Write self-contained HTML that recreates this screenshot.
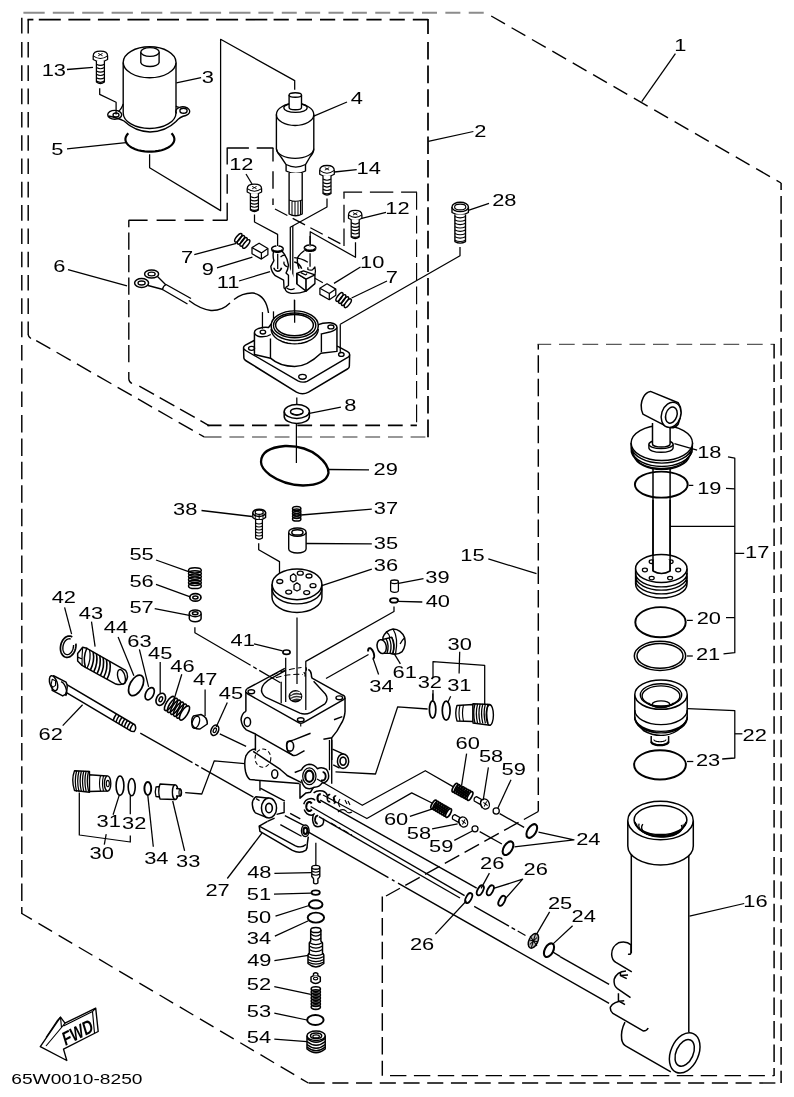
<!DOCTYPE html>
<html><head><meta charset="utf-8"><title>Parts diagram</title>
<style>html,body{margin:0;padding:0;background:#fff}svg{display:block}
text{font-family:"Liberation Sans",sans-serif;fill:#000}
svg{will-change:transform}</style></head>
<body><svg width="794" height="1097" viewBox="0 0 794 1097" stroke-linecap="butt" stroke-linejoin="round">
<rect width="794" height="1097" fill="#fff"/>
<path d="M23.4,12.7 L250.5,12.7" stroke="#8c8c8c" stroke-width="2.01" fill="none" stroke-dasharray="21.3 8.1"/>
<path d="M258.4,12.7 L484.5,12.7" stroke="#8c8c8c" stroke-width="2.01" fill="none" stroke-dasharray="15 8.37"/>
<path d="M491.2,16 L781.1,183" stroke="#000" stroke-width="1.38" fill="none" stroke-dasharray="15.9 7.62"/>
<path d="M781.1,183 L781.1,1083" stroke="#000" stroke-width="1.49" fill="none" stroke-dasharray="17.6 6.04" stroke-dashoffset="10.6"/>
<path d="M308.6,1083 L781.1,1083" stroke="#000" stroke-width="1.38" fill="none" stroke-dasharray="16.1 7.62"/>
<path d="M21.8,913.5 L308.3,1083" stroke="#000" stroke-width="1.38" fill="none" stroke-dasharray="15.8 7.65" stroke-dashoffset="4.1"/>
<path d="M21.8,17.8 L21.8,33.4" stroke="#000" stroke-width="1.44" fill="none"/>
<path d="M21.8,42 L21.8,407.2" stroke="#000" stroke-width="1.44" fill="none" stroke-dasharray="15.6 7.7"/>
<path d="M21.8,415 L21.8,914" stroke="#000" stroke-width="1.44" fill="none" stroke-dasharray="17.5 5.923"/>
<path d="M27.5,19.6 L33.4,19.6" stroke="#000" stroke-width="1.72" fill="none"/>
<path d="M38.8,19.6 L267.3,19.6" stroke="#000" stroke-width="1.72" fill="none" stroke-dasharray="22 7.55"/>
<path d="M273.6,19.6 L428.6,19.6" stroke="#000" stroke-width="1.72" fill="none" stroke-dasharray="15.2 8"/>
<path d="M428,19 L428,437.5" stroke="#000" stroke-width="1.72" fill="none" stroke-dasharray="15 8 17.6 6 17.6 6 17.6 6 17.6 6 17.6 6 17.6 6 17.6 6 17.6 6 17.6 6 17.6 6 17.6 6 17.6 6 17.6 6 17.6 6 17.6 6 17.6 6 17.6 6 17.6 6 17.6 6 17.6 6"/>
<path d="M204.1,437 L221.5,437" stroke="#333" stroke-width="1.15" fill="none"/>
<path d="M229.4,437 L428,437" stroke="#333" stroke-width="1.15" fill="none" stroke-dasharray="14.8 7.85"/>
<path d="M36.2,340.6 L204.1,436.9" stroke="#000" stroke-width="1.38" fill="none" stroke-dasharray="16.3 7.16"/>
<path d="M28.2,334 Q28.2,337 31,338.5" stroke="#000" stroke-width="1.26" fill="none"/>
<path d="M28.2,19.6 L28.2,33.4" stroke="#000" stroke-width="1.44" fill="none"/>
<path d="M28.2,42 L28.2,334.5" stroke="#000" stroke-width="1.44" fill="none" stroke-dasharray="15.6 7.7"/>
<path d="M128.8,362.3 L128.8,220.2" stroke="#000" stroke-width="1.38" fill="none" stroke-dasharray="17.2 5.3 17.2 5.3 17.2 5.3 17.2 5.3 17.2 5.3 17.2 5.3 17.2 5.3"/>
<path d="M128.6,220.2 L227.4,220.2" stroke="#000" stroke-width="1.49" fill="none" stroke-dasharray="19 9"/>
<path d="M227.2,220.2 L227.2,147.4" stroke="#000" stroke-width="1.38" fill="none" stroke-dasharray="17.5 9 19.5 9.8 17 0"/>
<path d="M227.4,148 L273.4,148" stroke="#000" stroke-width="1.49" fill="none" stroke-dasharray="21.5 7.8"/>
<path d="M273,148 L273,205" stroke="#000" stroke-width="1.38" fill="none" stroke-dasharray="13.5 9.7 17.6 9.8"/>
<path d="M275,209 L342,244.5" stroke="#000" stroke-width="1.26" fill="none" stroke-dasharray="14 6"/>
<path d="M344,246 L344,192.2" stroke="#000" stroke-width="1.26" fill="none" stroke-dasharray="17.6 6"/>
<path d="M343.4,192.2 L417,192.2" stroke="#000" stroke-width="1.26" fill="none" stroke-dasharray="18.7 7.8 23.4 7.8"/>
<path d="M416.6,192.2 L416.6,426" stroke="#000" stroke-width="1.15" fill="none" stroke-dasharray="17.6 6"/>
<path d="M207.3,425.3 L416.9,425.3" stroke="#000" stroke-width="1.72" fill="none" stroke-dasharray="14.8 7.85" stroke-dashoffset="0.6"/>
<path d="M139.3,386.1 L209.4,425.8" stroke="#000" stroke-width="1.44" fill="none" stroke-dasharray="16.9 6.5"/>
<path d="M128.8,372 L128.8,379 Q129,382 132,383.5" stroke="#000" stroke-width="1.38" fill="none"/>
<path d="M537.5,344.4 L774.6,344.4" stroke="#5a5a5a" stroke-width="1.44" fill="none" stroke-dasharray="15.7 7.8" stroke-dashoffset="2"/>
<path d="M774.1,344 L774.1,1076" stroke="#000" stroke-width="1.49" fill="none" stroke-dasharray="17.45 6" stroke-dashoffset="3"/>
<path d="M390,1075.6 L774.1,1075.6" stroke="#000" stroke-width="1.38" fill="none" stroke-dasharray="16.4 7.5"/>
<path d="M382.3,896.6 L382.3,1075.8" stroke="#000" stroke-width="1.44" fill="none" stroke-dasharray="17.5 6.3" stroke-dashoffset="2.4"/>
<path d="M538.3,811.5 L386,896" stroke="#000" stroke-width="1.38" fill="none" stroke-dasharray="16.5 6.1"/>
<path d="M538.3,344.4 L538.3,349.6" stroke="#000" stroke-width="1.44" fill="none"/>
<path d="M538.3,355.3 L538.3,811.5" stroke="#000" stroke-width="1.44" fill="none" stroke-dasharray="17.5 5.96"/>
<path d="M123.2,62.5 L123.2,113 A26.4,15.5 0 0 0 176,113 L176,62.5" stroke="#000" stroke-width="1.38" fill="#fff"/>
<ellipse cx="149.6" cy="62.3" rx="26.4" ry="15.5" stroke="#000" stroke-width="1.38" fill="#fff"/>
<path d="M140.8,52 L140.8,62.5 A9.2,4.4 0 0 0 159.1,62.5 L159.1,52" stroke="#000" stroke-width="1.38" fill="#fff"/>
<ellipse cx="150" cy="52" rx="9.2" ry="4.4" stroke="#000" stroke-width="1.38" fill="#fff"/>
<path d="M108.5,116 Q118,118 124,121 Q135,131.5 150,132 Q166,131.5 176,121.5 Q180,116.5 186,115.5" stroke="#000" stroke-width="1.38" fill="none"/>
<path d="M123.2,104 Q121,110 118.5,111.2" stroke="#000" stroke-width="1.26" fill="none"/>
<path d="M176,106 Q177.5,107.5 179,107" stroke="#000" stroke-width="1.26" fill="none"/>
<ellipse cx="114.7" cy="114.8" rx="7" ry="4.4" stroke="#000" stroke-width="1.38" fill="none"/>
<ellipse cx="116" cy="115" rx="3" ry="2" stroke="#000" stroke-width="1.26" fill="none"/>
<path d="M176.5,113.5 A7,4.6 0 1 1 186,115.5" stroke="#000" stroke-width="1.38" fill="none"/>
<ellipse cx="183.5" cy="110.8" rx="3.6" ry="2.5" stroke="#000" stroke-width="1.38" fill="none"/>
<path d="M171.53,133.33 L172.94,134.95 L173.89,136.66 L174.35,138.42 L174.32,140.19 L173.8,141.95 L172.8,143.64 L171.34,145.25 L169.44,146.74 L167.15,148.08 L164.51,149.23 L161.58,150.19 L158.42,150.92 L155.08,151.42 L151.64,151.67 L148.16,151.67 L144.72,151.42 L141.38,150.92 L138.22,150.19 L135.29,149.23 L132.65,148.08 L130.36,146.74 L128.46,145.25 L127,143.64 L126,141.95 L125.48,140.19 L125.45,138.42 L125.91,136.66 L126.86,134.95 L128.27,133.33" stroke="#000" stroke-width="2.18" fill="none"/>
<path d="M149.6,154.3 L149.6,167.8 L220.6,210.6 L220.6,39.3 L294.7,80.6 L294.7,89.7" stroke="#000" stroke-width="1.26" fill="none"/>
<path d="M93.2,55.925 Q93.2,51.2 100.4,51.2 Q107.6,51.2 107.6,55.925 L107.6,59.5 Q100.4,64.2 93.2,59.5 Z" stroke="#000" stroke-width="1.26" fill="#fff"/>
<path d="M93.2,55.925 Q100.4,61.175 107.6,55.925" stroke="#000" stroke-width="1.03" fill="none"/>
<path d="M98.2,53.4 L102.6,55.8 M102.6,53.4 L98.2,55.8" stroke="#000" stroke-width="0.92" fill="none"/>
<path d="M96.4,60.7 L96.4,82 Q100.4,85 104.4,82 L104.4,60.7" stroke="#000" stroke-width="1.26" fill="#fff"/>
<path d="M96.4,64.1917 Q100.4,66.5917 104.4,64.1917 M96.4,67.575 Q100.4,69.975 104.4,67.575 M96.4,70.9583 Q100.4,73.3583 104.4,70.9583 M96.4,74.3417 Q100.4,76.7417 104.4,74.3417 M96.4,77.725 Q100.4,80.125 104.4,77.725 M96.4,81.1083 Q100.4,83.5083 104.4,81.1083 " stroke="#000" stroke-width="1.15" fill="none"/>
<path d="M99.7,88.2 L99.7,94.4 L116.1,102.3 L116.1,114.6" stroke="#000" stroke-width="1.26" fill="none"/>
<path d="M67,69.5 L93,67.3" stroke="#000" stroke-width="1.26" fill="none"/>
<text transform="translate(41.64 75.6) scale(1.35 1)" font-size="16.2">13</text>
<path d="M176.4,82.9 L201.1,77.6" stroke="#000" stroke-width="1.26" fill="none"/>
<text transform="translate(201.67 83) scale(1.35 1)" font-size="16.2">3</text>
<path d="M67,148.8 L126,142.6" stroke="#000" stroke-width="1.26" fill="none"/>
<text transform="translate(51.13 155) scale(1.35 1)" font-size="16.2">5</text>
<path d="M276.4,114.5 L276.4,148.8 Q277,153 281,157 L286.1,164.6 L286.1,171 Q295.8,176 305.5,171 L305.5,164.6 L310,157 Q313.8,153 313.8,148.8 L313.8,114.5" stroke="#000" stroke-width="1.38" fill="#fff"/>
<ellipse cx="295.1" cy="114.5" rx="18.7" ry="11" stroke="#000" stroke-width="1.38" fill="#fff"/>
<path d="M276.4,148.8 A18.7,9.5 0 0 0 313.8,148.8" stroke="#000" stroke-width="1.26" fill="none"/>
<path d="M286.1,164.6 Q295.8,169.5 305.5,164.6" stroke="#000" stroke-width="1.15" fill="none"/>
<ellipse cx="295.5" cy="107.8" rx="11.7" ry="4.6" stroke="#000" stroke-width="1.26" fill="none"/>
<path d="M289.1,95 L289.1,107.5 A6.2,2.2 0 0 0 301.5,107.5 L301.5,95" stroke="#000" stroke-width="1.38" fill="#fff"/>
<ellipse cx="295.3" cy="95" rx="6.2" ry="2.2" stroke="#000" stroke-width="1.38" fill="#fff"/>
<path d="M289.1,173 L289.1,214 Q295.6,217.5 302.2,214 L302.2,173" stroke="#000" stroke-width="1.38" fill="#fff"/>
<path d="M289.1,199.9 Q295.6,202.5 302.2,199.9 M292,201 L292,215.5 M295,201.5 L295,216 M298,201.5 L298,216 M300.5,201 L300.5,215" stroke="#000" stroke-width="1.03" fill="none"/>
<path d="M313.8,116.1 L347,102" stroke="#000" stroke-width="1.26" fill="none"/>
<text transform="translate(350.70 103.6) scale(1.35 1)" font-size="16.2">4</text>
<path d="M319.7,170.45 Q319.7,165.5 327,165.5 Q334.3,165.5 334.3,170.45 L334.3,174.3 Q327,179 319.7,174.3 Z" stroke="#000" stroke-width="1.26" fill="#fff"/>
<path d="M319.7,170.45 Q327,175.95 334.3,170.45" stroke="#000" stroke-width="1.03" fill="none"/>
<path d="M324.8,167.7 L329.2,170.1 M329.2,167.7 L324.8,170.1" stroke="#000" stroke-width="0.92" fill="none"/>
<path d="M323,175.5 L323,193.6 Q327,196.6 331,193.6 L331,175.5" stroke="#000" stroke-width="1.26" fill="#fff"/>
<path d="M323,179.01 Q327,181.41 331,179.01 M323,182.43 Q327,184.83 331,182.43 M323,185.85 Q327,188.25 331,185.85 M323,189.27 Q327,191.67 331,189.27 M323,192.69 Q327,195.09 331,192.69 " stroke="#000" stroke-width="1.15" fill="none"/>
<path d="M327,198.5 L327,207 L290.3,227.3 L290.3,288" stroke="#000" stroke-width="1.26" fill="none"/>
<path d="M292.8,226 L292.8,288" stroke="#000" stroke-width="1.26" fill="none"/>
<path d="M334.3,172 L356.7,169.6" stroke="#000" stroke-width="1.26" fill="none"/>
<text transform="translate(356.54 173.7) scale(1.35 1)" font-size="16.2">14</text>
<path d="M247.2,188.7 Q247.2,184.2 254.4,184.2 Q261.6,184.2 261.6,188.7 L261.6,192 Q254.4,196.7 247.2,192 Z" stroke="#000" stroke-width="1.26" fill="#fff"/>
<path d="M247.2,188.7 Q254.4,193.7 261.6,188.7" stroke="#000" stroke-width="1.03" fill="none"/>
<path d="M252.2,186.4 L256.6,188.8 M256.6,186.4 L252.2,188.8" stroke="#000" stroke-width="0.92" fill="none"/>
<path d="M250.4,193.2 L250.4,210 Q254.4,213 258.4,210 L258.4,193.2" stroke="#000" stroke-width="1.26" fill="#fff"/>
<path d="M250.4,196.58 Q254.4,198.98 258.4,196.58 M250.4,199.74 Q254.4,202.14 258.4,199.74 M250.4,202.9 Q254.4,205.3 258.4,202.9 M250.4,206.06 Q254.4,208.46 258.4,206.06 M250.4,209.22 Q254.4,211.62 258.4,209.22 " stroke="#000" stroke-width="1.15" fill="none"/>
<path d="M254.5,214.4 L254.5,222 L277.6,234.4 L277.6,246" stroke="#000" stroke-width="1.26" fill="none"/>
<path d="M246,174 L252,184" stroke="#000" stroke-width="1.26" fill="none"/>
<text transform="translate(229.14 170.3) scale(1.35 1)" font-size="16.2">12</text>
<path d="M348.5,214.9 Q348.5,210.4 355.2,210.4 Q361.9,210.4 361.9,214.9 L361.9,218.2 Q355.2,222.9 348.5,218.2 Z" stroke="#000" stroke-width="1.26" fill="#fff"/>
<path d="M348.5,214.9 Q355.2,219.9 361.9,214.9" stroke="#000" stroke-width="1.03" fill="none"/>
<path d="M353,212.6 L357.4,215 M357.4,212.6 L353,215" stroke="#000" stroke-width="0.92" fill="none"/>
<path d="M351.2,219.4 L351.2,237 Q355.2,240 359.2,237 L359.2,219.4" stroke="#000" stroke-width="1.26" fill="#fff"/>
<path d="M351.2,222.86 Q355.2,225.26 359.2,222.86 M351.2,226.18 Q355.2,228.58 359.2,226.18 M351.2,229.5 Q355.2,231.9 359.2,229.5 M351.2,232.82 Q355.2,235.22 359.2,232.82 M351.2,236.14 Q355.2,238.54 359.2,236.14 " stroke="#000" stroke-width="1.15" fill="none"/>
<path d="M355.5,242.3 L355.5,257.3 L310.2,231.7 L310.2,245" stroke="#000" stroke-width="1.26" fill="none"/>
<path d="M361.7,218.4 L386,212.4" stroke="#000" stroke-width="1.26" fill="none"/>
<text transform="translate(385.24 214.2) scale(1.35 1)" font-size="16.2">12</text>
<path d="M452,206.98 L452,212.5 Q460.2,217.5 468.4,212.5 L468.4,206.98" stroke="#000" stroke-width="1.38" fill="#fff"/>
<ellipse cx="460.2" cy="206.98" rx="8.2" ry="4.68" stroke="#000" stroke-width="1.38" fill="#fff"/>
<ellipse cx="460.2" cy="206.98" rx="5.6" ry="2.88" stroke="#000" stroke-width="1.15" fill="none"/>
<path d="M454.9,214.5 L454.9,241.6 Q460.2,244.6 465.5,241.6 L465.5,214.5" stroke="#000" stroke-width="1.38" fill="#fff"/>
<path d="M454.9,216.532 Q460.2,219.132 465.5,216.532 M454.9,219.92 Q460.2,222.52 465.5,219.92 M454.9,223.308 Q460.2,225.907 465.5,223.308 M454.9,226.695 Q460.2,229.295 465.5,226.695 M454.9,230.082 Q460.2,232.682 465.5,230.082 M454.9,233.47 Q460.2,236.07 465.5,233.47 M454.9,236.857 Q460.2,239.457 465.5,236.857 M454.9,240.245 Q460.2,242.845 465.5,240.245 " stroke="#000" stroke-width="1.15" fill="none"/>
<path d="M460,247 L460,255.7 L340.3,324.2" stroke="#000" stroke-width="1.26" fill="none"/>
<path d="M468.3,210.4 L489,203.3" stroke="#000" stroke-width="1.26" fill="none"/>
<text transform="translate(492.21 206) scale(1.35 1)" font-size="16.2">28</text>
<path d="M428.3,141.4 L473.4,131.5" stroke="#000" stroke-width="1.26" fill="none"/>
<text transform="translate(474.31 136.5) scale(1.35 1)" font-size="16.2">2</text>
<path d="M675.4,53.6 L641.7,101.7" stroke="#000" stroke-width="1.26" fill="none"/>
<text transform="translate(674.34 51) scale(1.35 1)" font-size="16.2">1</text>
<ellipse cx="238.3" cy="237.8" rx="1.976" ry="5.2" stroke="#000" stroke-width="1.49" fill="none" transform="rotate(38.12518197129579 238.3 237.8)"/>
<ellipse cx="240.933" cy="239.867" rx="1.976" ry="5.2" stroke="#000" stroke-width="1.49" fill="none" transform="rotate(38.12518197129579 240.933 239.867)"/>
<ellipse cx="243.567" cy="241.933" rx="1.976" ry="5.2" stroke="#000" stroke-width="1.49" fill="none" transform="rotate(38.12518197129579 243.567 241.933)"/>
<ellipse cx="246.2" cy="244" rx="1.976" ry="5.2" stroke="#000" stroke-width="1.49" fill="#fff" transform="rotate(38.12518197129579 246.2 244)"/>
<ellipse cx="339.5" cy="297" rx="1.976" ry="5.2" stroke="#000" stroke-width="1.49" fill="none" transform="rotate(36.75928817029204 339.5 297)"/>
<ellipse cx="342.267" cy="299.067" rx="1.976" ry="5.2" stroke="#000" stroke-width="1.49" fill="none" transform="rotate(36.75928817029204 342.267 299.067)"/>
<ellipse cx="345.033" cy="301.133" rx="1.976" ry="5.2" stroke="#000" stroke-width="1.49" fill="none" transform="rotate(36.75928817029204 345.033 301.133)"/>
<ellipse cx="347.8" cy="303.2" rx="1.976" ry="5.2" stroke="#000" stroke-width="1.49" fill="#fff" transform="rotate(36.75928817029204 347.8 303.2)"/>
<path d="M 281.84,250.99 Q 287.57,257.16 288.46,265.1 Q 288.01,269.51 285.99,273.04 L 288.46,275.24 L 288.46,285.38 Q 285.81,286.71 285.1,288.91 Q 285.81,292.44 291.1,293.32 Q 299.04,293.76 306.09,291.11 L 306.09,279.21 L 296.83,273.48 L 296.83,284.06 M 285.1,288.91 L 284.05,288.03 L 283.6,280.09 L 275.23,275.68 Q 271.26,271.71 270.82,266.42 L 273.9,260.69 Q 272.58,256.28 273.46,251.87" stroke="#000" stroke-width="1.38" fill="#fff"/>
<path d="M 273.9,267.75 Q 274.35,270.83 277.7,271.27 Q 280.96,270.83 281.58,267.75" stroke="#000" stroke-width="1.49" fill="none"/>
<path d="M 286.69,288.03 Q 290.22,291.11 294.63,288.47" stroke="#000" stroke-width="1.26" fill="none"/>
<path d="M 280.52,256.99 Q 282.72,254.96 285.1,255.22 M 284.05,261.57 Q 282.99,265.1 287.57,266.86" stroke="#000" stroke-width="1.26" fill="none"/>
<path d="M 294.19,257.6 Q 301.24,258.05 307.86,262.28 M 294.19,262.01 Q 299.48,262.9 301.68,268.8 M 297.71,257.16 Q 296.57,262.46 299.04,268.8 M 304.5,250.55 Q 299.04,254.52 297.71,257.6" stroke="#000" stroke-width="1.38" fill="none"/>
<path d="M 296.83,273.48 L 303.45,270.83 L 314.91,274.8 L 314.91,283.62 L 306.09,291.11 L 306.09,279.21 L 296.83,273.48 Z" stroke="#000" stroke-width="1.38" fill="#fff"/>
<path d="M 306.09,279.21 L 314.91,274.8 M 296.83,273.48 L 296.83,284.06 L 306.09,291.11" stroke="#000" stroke-width="1.38" fill="none"/>
<path d="M 300.8,272.6 L 305.21,274.8 Q 306.53,274.8 306.97,273.48 M 307.86,267.31 L 307.86,269.51 Q 310.06,270.57 312.44,269.86 L 314.91,267.04 L 315.44,271.27 L 314.91,274.8" stroke="#000" stroke-width="1.26" fill="none"/>
<path d="M282.82,249.79 L282.48,250.17 L282.04,250.52 L281.5,250.84 L280.88,251.11 L280.19,251.34 L279.45,251.51 L278.66,251.63 L277.84,251.69 L277.02,251.69 L276.2,251.63 L275.41,251.51 L274.67,251.34 L273.98,251.11 L273.36,250.84 L272.82,250.52 L272.38,250.17 L272.04,249.79" stroke="#000" stroke-width="2.53" fill="none"/>
<path d="M272.04,249.79 L271.82,249.38 L271.71,248.96 L271.72,248.54 L271.85,248.12 L272.1,247.72 L272.47,247.33 L272.93,246.99 L273.5,246.67 L274.14,246.41 L274.86,246.19 L275.63,246.03 L276.43,245.92" stroke="#000" stroke-width="1.49" fill="none"/>
<path d="M278.43,245.92 L279.23,246.03 L280,246.19 L280.72,246.41 L281.36,246.67 L281.93,246.99 L282.39,247.33 L282.76,247.72 L283.01,248.12 L283.14,248.54 L283.15,248.96 L283.04,249.38 L282.82,249.79" stroke="#000" stroke-width="1.49" fill="none"/>
<path d="M315.45,248.9 L315.11,249.28 L314.67,249.63 L314.13,249.95 L313.51,250.22 L312.82,250.45 L312.08,250.62 L311.29,250.74 L310.47,250.8 L309.65,250.8 L308.83,250.74 L308.04,250.62 L307.3,250.45 L306.61,250.22 L305.99,249.95 L305.45,249.63 L305.01,249.28 L304.67,248.9" stroke="#000" stroke-width="2.53" fill="none"/>
<path d="M304.67,248.9 L304.45,248.49 L304.34,248.07 L304.35,247.65 L304.48,247.23 L304.73,246.83 L305.1,246.44 L305.56,246.1 L306.13,245.78 L306.77,245.52 L307.49,245.3 L308.26,245.14 L309.06,245.03" stroke="#000" stroke-width="1.49" fill="none"/>
<path d="M311.06,245.03 L311.86,245.14 L312.63,245.3 L313.35,245.52 L313.99,245.78 L314.56,246.1 L315.02,246.44 L315.39,246.83 L315.64,247.23 L315.77,247.65 L315.78,248.07 L315.67,248.49 L315.45,248.9" stroke="#000" stroke-width="1.49" fill="none"/>
<path d="M277.7,253.64 L277.7,269.07" stroke="#000" stroke-width="1.26" fill="none"/>
<path d="M310.06,253.2 L310.06,266.86" stroke="#000" stroke-width="1.26" fill="none"/>
<path d="M310.06,236 L310.06,246.58" stroke="#000" stroke-width="1.26" fill="none"/>
<path d="M314.91,278.33 L322.85,282.74" stroke="#000" stroke-width="1.15" fill="none"/>
<path d="M252,247.6 L259.1,243.2 L267.9,248.5 L267.9,254.7 L261.4,259.1 L252,253.8 Z" stroke="#000" stroke-width="1.26" fill="#fff"/>
<path d="M252,247.6 L261.4,252.9 L267.9,248.5 M261.4,252.9 L261.4,259.1" stroke="#000" stroke-width="1.26" fill="none"/>
<path d="M319.9,288.2 L327,283.8 L335.8,289.1 L335.8,295.3 L329.3,299.7 L319.9,294.4 Z" stroke="#000" stroke-width="1.26" fill="#fff"/>
<path d="M319.9,288.2 L329.3,293.5 L335.8,289.1 M329.3,293.5 L329.3,299.7" stroke="#000" stroke-width="1.26" fill="none"/>
<path d="M294.4,299.6 L294.4,323.4" stroke="#000" stroke-width="1.26" fill="none"/>
<path d="M194.3,254.7 L236.4,243.4" stroke="#000" stroke-width="1.26" fill="none"/>
<text transform="translate(180.88 262.6) scale(1.35 1)" font-size="16.2">7</text>
<path d="M217,267.8 L252.4,257.2" stroke="#000" stroke-width="1.26" fill="none"/>
<text transform="translate(201.77 274.8) scale(1.35 1)" font-size="16.2">9</text>
<path d="M239,281 L270,271.6" stroke="#000" stroke-width="1.26" fill="none"/>
<text transform="translate(216.74 288) scale(1.35 1)" font-size="16.2">11</text>
<path d="M360.5,267 L334,283.4" stroke="#000" stroke-width="1.26" fill="none"/>
<text transform="translate(360.04 268.3) scale(1.35 1)" font-size="16.2">10</text>
<path d="M387,281 L351.6,298" stroke="#000" stroke-width="1.26" fill="none"/>
<text transform="translate(385.78 283.4) scale(1.35 1)" font-size="16.2">7</text>
<path d="M68,269.7 L127,285.8" stroke="#000" stroke-width="1.26" fill="none"/>
<text transform="translate(53.28 272) scale(1.35 1)" font-size="16.2">6</text>
<ellipse cx="151.6" cy="274" rx="7" ry="4" stroke="#000" stroke-width="1.49" fill="none"/>
<ellipse cx="151.6" cy="274" rx="3.6" ry="1.9" stroke="#000" stroke-width="1.26" fill="none"/>
<ellipse cx="141.6" cy="283" rx="7" ry="4.4" stroke="#000" stroke-width="1.49" fill="none"/>
<ellipse cx="141.6" cy="283" rx="3.6" ry="2" stroke="#000" stroke-width="1.26" fill="none"/>
<path d="M157.5,276.5 L166,285 M148,285.5 L163,289.5" stroke="#000" stroke-width="1.38" fill="none"/>
<path d="M166,284.5 L191,298.5 M162.5,289.5 L187.5,304 M162.5,289.5 Q163,286 166,284.5" stroke="#000" stroke-width="1.38" fill="none"/>
<path d="M189,300.5 Q200,309 211,310.5 Q222,311 230,303 M234,299.5 Q243,292.5 253,293 Q266,295 268.5,313" stroke="#000" stroke-width="1.38" fill="none"/>
<path d="M 254.14,340.5 L 245.37,345.04 Q 243.25,346.24 243.56,348.36 L 243.86,358.18 Q 244.16,359.69 245.97,360.75 L 296.45,392.19 Q 302.5,395.51 308.54,392.19 L 347.83,368.76 Q 349.34,367.7 349.34,366.19 L 349.65,354.71 Q 349.65,352.89 347.53,351.69 L 338.77,346.85 L 296.45,330.23 Z" stroke="#000" stroke-width="1.49" fill="#fff"/>
<path d="M 243.56,348.36 Q 243.86,349.57 245.67,350.48 L 297.96,380.85 Q 302.5,383.12 307.03,381.31 L 348.14,357.13 Q 349.65,355.92 349.65,354.71" stroke="#000" stroke-width="1.38" fill="none"/>
<path d="M 254.44,332.49 Q 254.44,329.92 258.67,328.41 Q 263.96,326.9 268.49,327.5 L 272.27,322.67 L 317.61,324.94 Q 322.9,322.37 330.45,322.67 Q 336.95,323.88 336.95,327.2 L 336.95,351.38 L 320.93,353.2 Q 307.03,366.5 294.64,366.5 Q 279.83,366.5 270.46,358.18 L 254.44,354.41 Z" stroke="#000" stroke-width="1.49" fill="#fff"/>
<path d="M 254.44,332.95 Q 255.34,335.97 260.18,336.72 Q 266.98,337.18 270.76,334.46 M 270.46,338.54 L 270.46,358.18 M 321.39,334 L 321.39,352.14 M 336.95,327.5 Q 336.05,330.23 329.7,332.04 Q 324.41,333.25 320.63,334.15" stroke="#000" stroke-width="1.38" fill="none"/>
<path d="M318.29,329.02 L318.05,331.13 L317.33,333.19 L316.16,335.17 L314.54,337.03 L312.53,338.72 L310.15,340.21 L307.46,341.48 L304.5,342.49 L301.35,343.23 L298.07,343.68 L294.71,343.83 L291.35,343.68 L288.07,343.23 L284.92,342.49 L281.96,341.48 L279.27,340.21 L276.89,338.72 L274.88,337.03 L273.26,335.17 L272.09,333.19 L271.37,331.13 L271.13,329.02" stroke="#000" stroke-width="1.38" fill="none"/>
<ellipse cx="294.71" cy="325.69" rx="23.5756" ry="14.8103" stroke="#000" stroke-width="1.49" fill="#fff"/>
<ellipse cx="294.64" cy="325.39" rx="21.1576" ry="12.3923" stroke="#000" stroke-width="1.38" fill="none"/>
<ellipse cx="294.49" cy="325.09" rx="18.8907" ry="10.5788" stroke="#000" stroke-width="1.49" fill="none"/>
<ellipse cx="262.9" cy="332.04" rx="2.72027" ry="1.96464" stroke="#000" stroke-width="1.38" fill="none"/>
<ellipse cx="330.91" cy="326.9" rx="3.02252" ry="1.96464" stroke="#000" stroke-width="1.38" fill="none"/>
<ellipse cx="251.57" cy="348.36" rx="3.02252" ry="1.96464" stroke="#000" stroke-width="1.38" fill="none"/>
<ellipse cx="302.5" cy="376.77" rx="3.77815" ry="2.41801" stroke="#000" stroke-width="1.38" fill="none"/>
<ellipse cx="341.33" cy="354.41" rx="2.72027" ry="1.96464" stroke="#000" stroke-width="1.38" fill="none"/>
<path d="M294.64,300 L294.64,322.67" stroke="#000" stroke-width="1.26" fill="none"/>
<path d="M262.45,312.09 L262.45,328.71" stroke="#000" stroke-width="1.26" fill="none"/>
<path d="M273.48,311.33 L273.48,319.34" stroke="#000" stroke-width="1.26" fill="none"/>
<path d="M340.28,324.18 L340.28,353.2" stroke="#000" stroke-width="1.26" fill="none"/>
<path d="M296.8,397.5 L296.8,408" stroke="#000" stroke-width="1.26" fill="none"/>
<path d="M284.2,411.5 L284.2,416.5 A12.6,7 0 0 0 309.4,416.5 L309.4,411.5" stroke="#000" stroke-width="1.49" fill="#fff"/>
<ellipse cx="296.8" cy="411.5" rx="12.6" ry="7" stroke="#000" stroke-width="1.49" fill="#fff"/>
<ellipse cx="296.8" cy="411.8" rx="6.3" ry="3.4" stroke="#000" stroke-width="1.49" fill="none"/>
<path d="M291.5,413.3 Q296.8,416 302.3,413.3" stroke="#000" stroke-width="1.03" fill="none"/>
<path d="M309.4,413.4 L340.9,407.1" stroke="#000" stroke-width="1.26" fill="none"/>
<text transform="translate(344.26 410.9) scale(1.35 1)" font-size="16.2">8</text>
<path d="M 245.88,690.98 L 284.87,668.31 L 306.03,663.78 L 311.32,672.09 L 345.02,697.03 L 345.02,712.14 L 340.79,726.5 L 331.72,737.83 L 331.72,756.72 L 331.72,783.83 L 325.68,792.89 L 323.41,823.87 L 316.61,829.16 L 315.85,844.28 L 307.54,845.79 L 301.5,853.34 L 292.43,850.32 L 259.94,831.43 L 259.18,826.14 L 267.49,820.85 L 254.65,812.54 L 252.38,803.47 L 256.16,796.67 L 259.94,790.63 L 259.94,780.05 L 250.11,779.59 L 244.82,767.2 L 244.82,756.62 L 249.36,749.82 L 255.4,749.07 L 255.4,734.05 L 244.07,728.01 L 241.05,720.45 L 242.56,713.65 L 245.88,711.38 Z" fill="#fff" stroke="none"/>
<path d="M 247.09,688.71 Q 245.28,690.23 245.88,692.04 Q 246.49,693.55 248.6,694.46 L 298.17,722.41 Q 300.74,724.08 303.31,722.57 L 343.51,699.59 Q 345.32,698.39 344.72,696.72 Q 344.11,695.67 342.6,695.06 L 312.07,678.14 Q 311.32,676.93 311.32,674.36 Q 311.02,670.88 308.3,669.37" stroke="#000" stroke-width="1.49" fill="none"/>
<path d="M 247.09,688.71 L 284.87,668.31 M 245.88,692.04 L 245.88,711.38 M 345.02,697.78 L 345.02,712.14" stroke="#000" stroke-width="1.49" fill="none"/>
<path d="M 300.74,724.08 L 300.74,726.5" stroke="#000" stroke-width="1.15" fill="none"/>
<path d="M 261.9,692.49 Q 260.39,688.71 264.47,683.42 Q 267.49,680.4 271.27,678.44 L 284.87,670.88 M 313.59,681.16 L 325.37,694 Q 329,698.99 324.92,703.83 L 310.56,712.59 Q 305.27,715.16 299.98,713.2 L 265.98,697.48 Q 262.96,695.51 261.9,692.49" stroke="#000" stroke-width="1.38" fill="none"/>
<path d="M 272.03,675.41 Q 284.87,669.37 301.5,667.56 M 275.8,677.83 Q 287.89,673.6 303.01,674.51" stroke="#000" stroke-width="1.03" fill="none" stroke-dasharray="6 3"/>
<path d="M 306.03,667.25 Q 307.24,669.07 306.03,670.88 M 303.76,672.09 Q 306.03,674.36 304.82,676.62" stroke="#000" stroke-width="1.15" fill="none"/>
<ellipse cx="295.45" cy="696.27" rx="6.34729" ry="5.59166" stroke="#000" stroke-width="1.15" fill="#333"/>
<path d="M 290.61,694.46 Q 294.69,690.98 300.29,692.95 M 290.31,697.18 Q 294.85,693.85 301.19,695.97 M 291.22,699.59 Q 295.45,696.87 300.89,698.69" stroke="#fff" stroke-width="1.26" fill="none"/>
<ellipse cx="251.32" cy="691.74" rx="3.32477" ry="1.96464" stroke="#000" stroke-width="1.38" fill="none"/>
<ellipse cx="339.28" cy="697.78" rx="3.32477" ry="1.96464" stroke="#000" stroke-width="1.38" fill="none"/>
<ellipse cx="300.74" cy="719.69" rx="3.32477" ry="1.96464" stroke="#000" stroke-width="1.38" fill="none"/>
<path d="M 245.88,711.38 Q 241.8,713.2 241.05,719.69 Q 241.8,726.5 246.33,729.82 L 255.4,734.05 L 255.4,750.68" stroke="#000" stroke-width="1.49" fill="none"/>
<ellipse cx="247.39" cy="721.96" rx="3.17364" ry="4.53378" stroke="#000" stroke-width="1.49" fill="none"/>
<path d="M 255.4,734.05 L 292.43,755.21 Q 294.69,756.12 296.96,754.91 L 304.52,750.68 M 293.18,740.1 L 310.56,733.3 M 323.41,739.34 L 331.72,737.83 L 331.72,760.05 M 333.99,719.69 L 342.3,716.67 M 345.02,712.14 Q 344.11,719.69 340.79,724.23 Q 337.77,731.03 331.72,737.83" stroke="#000" stroke-width="1.49" fill="none"/>
<path d="M 287.14,741.61 Q 285.63,746.14 287.89,751.43 L 293.18,755.51 M 287.14,741.61 L 293.18,740.1" stroke="#000" stroke-width="1.38" fill="none"/>
<ellipse cx="290.16" cy="746.14" rx="3.4759" ry="4.98715" stroke="#000" stroke-width="1.61" fill="none"/>
<path d="M329.45,740 L329.45,770.23" stroke="#000" stroke-width="1.26" fill="none"/>
<path d="M331.72,740 L331.72,783.83" stroke="#000" stroke-width="1.38" fill="none"/>
<path d="M 332.48,749.07 L 344.11,754.36 M 333.23,764.94 L 339.58,768.11" stroke="#000" stroke-width="1.38" fill="none"/>
<ellipse cx="343.06" cy="761.16" rx="5.59166" ry="7.25404" stroke="#000" stroke-width="1.49" fill="#fff"/>
<ellipse cx="343.06" cy="761.16" rx="3.02252" ry="4.0804" stroke="#000" stroke-width="1.61" fill="none"/>
<path d="M 255.4,749.07 Q 249.36,749.37 245.88,755.87 Q 243.77,762.67 245.58,771.74 Q 247.09,777.78 250.11,779.59 L 299.23,783.52 M 253.14,751.33 L 280.34,769.47 Q 285.63,774 287.14,775.51 L 301.5,782.62 M 299.98,783.52 L 299.98,798.18 L 306.03,792.89 L 310.56,792.14 L 313.59,787.15" stroke="#000" stroke-width="1.49" fill="none"/>
<ellipse cx="262.96" cy="758.14" rx="7.85855" ry="9.06755" fill="none" stroke="#000" stroke-width="1.1" stroke-dasharray="4 2.5"/>
<ellipse cx="274.75" cy="774" rx="3.02252" ry="4.23152" stroke="#000" stroke-width="1.49" fill="none"/>
<path d="M 294.69,772.49 L 301.5,769.92 Q 303.76,764.94 309.05,764.18 Q 314.34,764.18 317.36,768.71 Q 321.9,766.45 326.43,769.47 Q 329.45,773.25 328.4,778.54 Q 326.43,783.07 321.9,783.07 Q 319.63,786.85 314.34,787.15 Q 310.56,789.87 306.03,788.06 Q 302.25,785.34 301.5,779.59" stroke="#000" stroke-width="1.49" fill="#fff"/>
<ellipse cx="309.35" cy="776.27" rx="4.0804" ry="5.59166" stroke="#000" stroke-width="2.18" fill="none"/>
<ellipse cx="309.35" cy="776.27" rx="6.64954" ry="8.31192" stroke="#000" stroke-width="1.26" fill="none"/>
<path d="M322.65,772.04 L323.07,772.08 L323.49,772.21 L323.89,772.41 L324.27,772.69 L324.61,773.05 L324.91,773.46 L325.17,773.94 L325.38,774.46 L325.54,775.01 L325.63,775.59 L325.67,776.18 L325.65,776.78 L325.57,777.37 L325.43,777.93 L325.24,778.46 L324.99,778.95 L324.7,779.38 L324.37,779.75 L324,780.06 L323.61,780.28 L323.19,780.43 L322.77,780.5 L322.35,780.48 L321.93,780.38 L321.52,780.2 L321.14,779.93" stroke="#000" stroke-width="1.84" fill="none"/>
<path d="M 259.94,780.05 L 259.94,790.63 M 260.69,788.36 L 284.87,801.21 M 284.12,801.96 L 284.12,812.54 L 276.56,814.35" stroke="#000" stroke-width="1.38" fill="none"/>
<path d="M 269,798.18 L 256.16,796.67 Q 251.93,799.69 252.38,804.98 Q 252.83,810.27 255.4,812.84 L 267.49,817.83" stroke="#000" stroke-width="1.49" fill="#fff"/>
<ellipse cx="269" cy="808.01" rx="7.55629" ry="9.97431" stroke="#000" stroke-width="1.49" fill="#fff"/>
<ellipse cx="269" cy="808.01" rx="3.32477" ry="4.6849" stroke="#000" stroke-width="1.61" fill="none"/>
<path d="M 313.59,792.89 Q 317.36,789.87 322.65,791.08 Q 326.43,792.14 327.49,795.92 M 303.76,804.23 Q 304.82,799.69 309.81,798.64 Q 313.59,798.18 315.1,800.45 M 304.22,809.52 Q 306.03,814.81 311.32,815.26 Q 314.34,814.81 314.34,813.3 M 313.59,814.35 Q 311.32,820.1 314.34,825.39 Q 318.12,828.41 322.65,824.63 Q 324.16,821.61 323.41,818.59" stroke="#000" stroke-width="1.49" fill="none"/>
<path d="M320.76,801.87 L320.43,802.03 L320.09,802.1 L319.74,802.1 L319.4,802.01 L319.07,801.85 L318.76,801.62 L318.47,801.32 L318.21,800.95 L317.99,800.53 L317.81,800.06 L317.66,799.55 L317.57,799.01 L317.52,798.46 L317.52,797.9 L317.57,797.35 L317.66,796.81 L317.81,796.3 L317.99,795.83 L318.21,795.41 L318.47,795.04 L318.76,794.74 L319.07,794.51 L319.4,794.35 L319.74,794.26 L320.09,794.26 L320.43,794.33 L320.76,794.49" stroke="#000" stroke-width="2.07" fill="none"/>
<path d="M311.67,809.41 L311.37,809.87 L311.04,810.26 L310.67,810.57 L310.28,810.81 L309.87,810.96 L309.46,811.03 L309.03,811.01 L308.62,810.9 L308.22,810.7 L307.84,810.43 L307.49,810.07 L307.18,809.65 L306.9,809.16 L306.68,808.63 L306.51,808.05 L306.39,807.44 L306.33,806.82 L306.33,806.18 L306.39,805.56 L306.51,804.95 L306.68,804.37 L306.9,803.84 L307.18,803.35 L307.49,802.93 L307.84,802.57 L308.22,802.3 L308.62,802.1 L309.03,801.99 L309.46,801.97 L309.87,802.04 L310.28,802.19 L310.67,802.43 L311.04,802.74 L311.37,803.13 L311.67,803.59" stroke="#000" stroke-width="2.07" fill="none"/>
<path d="M317.75,823.51 L317.44,823.57 L317.12,823.55 L316.8,823.45 L316.5,823.28 L316.21,823.03 L315.95,822.72 L315.71,822.34 L315.51,821.92 L315.35,821.44 L315.22,820.93 L315.14,820.4 L315.1,819.85 L315.1,819.3 L315.15,818.75 L315.25,818.22 L315.38,817.72 L315.56,817.26 L315.77,816.84 L316.01,816.48 L316.28,816.19 L316.57,815.96 L316.88,815.8 L317.19,815.72 L317.51,815.72 L317.83,815.8 L318.14,815.95" stroke="#000" stroke-width="1.84" fill="none"/>
<path d="M330.17,801.59 L329.88,801.73 L329.59,801.8 L329.29,801.8 L328.99,801.72 L328.7,801.57 L328.43,801.36 L328.18,801.08 L327.95,800.74 L327.75,800.35 L327.59,799.91 L327.47,799.44 L327.38,798.95 L327.34,798.44 L327.34,797.92 L327.38,797.41 L327.47,796.92 L327.59,796.45 L327.75,796.01 L327.95,795.62 L328.18,795.28 L328.43,795 L328.7,794.79 L328.99,794.64 L329.29,794.56 L329.59,794.56 L329.88,794.63 L330.17,794.77" stroke="#000" stroke-width="1.61" fill="none"/>
<path d="M336.12,802.36 L335.87,802.49 L335.62,802.56 L335.36,802.55 L335.1,802.48 L334.86,802.35 L334.62,802.15 L334.41,801.89 L334.21,801.58 L334.05,801.23 L333.91,800.83 L333.8,800.4 L333.73,799.94 L333.69,799.48 L333.69,799 L333.73,798.54 L333.8,798.08 L333.91,797.65 L334.05,797.25 L334.21,796.9 L334.41,796.59 L334.62,796.33 L334.86,796.13 L335.1,796 L335.36,795.93 L335.62,795.92 L335.87,795.99 L336.12,796.12" stroke="#000" stroke-width="1.49" fill="none"/>
<path d="M 267.49,821.31 L 259.18,826.14 L 259.94,831.43 L 292.43,850.32 Q 299.98,854.1 306.03,850.02 Q 307.54,848.06 307.24,844.28 L 308.3,836.72" stroke="#000" stroke-width="1.49" fill="none"/>
<path d="M 259.18,826.14 L 295.45,845.79 Q 301.5,848.51 306.03,844.58 M 267.49,821.31 L 274.59,818.13" stroke="#000" stroke-width="1.38" fill="none"/>
<path d="M 284.87,815.56 L 303.76,825.39 M 280.34,824.63 L 301.5,836.27 M 290.16,813.3 L 300.29,818.89" stroke="#000" stroke-width="1.38" fill="none"/>
<ellipse cx="305.27" cy="830.68" rx="3.77815" ry="5.74278" stroke="#000" stroke-width="1.49" fill="#fff"/>
<ellipse cx="305.42" cy="830.83" rx="1.96464" ry="3.17364" stroke="#000" stroke-width="2.07" fill="none"/>
<path d="M315.85,842.77 L315.85,879.79" stroke="#000" stroke-width="1.26" fill="none"/>
<path d="M296.4,424 L296.4,463" stroke="#000" stroke-width="1.26" fill="none"/>
<path d="M261,462 Q261,448 285,446 Q305,445.5 318,456 Q329,465 328.5,473 Q326,485 303,485.5 Q284,485 270,475 Q261,468 261,462 Z" stroke="#000" stroke-width="2.3" fill="none"/>
<path d="M328.8,469.5 L369,469.9" stroke="#000" stroke-width="1.26" fill="none"/>
<text transform="translate(373.51 474.6) scale(1.35 1)" font-size="16.2">29</text>
<ellipse cx="296.7" cy="508.6" rx="4.2" ry="2.2" stroke="#000" stroke-width="1.49" fill="#fff"/>
<ellipse cx="296.7" cy="511.175" rx="4.2" ry="2.2" stroke="#000" stroke-width="1.49" fill="none"/>
<ellipse cx="296.7" cy="513.75" rx="4.2" ry="2.2" stroke="#000" stroke-width="1.49" fill="none"/>
<ellipse cx="296.7" cy="516.325" rx="4.2" ry="2.2" stroke="#000" stroke-width="1.49" fill="none"/>
<ellipse cx="296.7" cy="518.9" rx="4.2" ry="2.2" stroke="#000" stroke-width="1.49" fill="none"/>
<path d="M301.1,515 L371.8,509.2" stroke="#000" stroke-width="1.26" fill="none"/>
<text transform="translate(373.77 514.2) scale(1.35 1)" font-size="16.2">37</text>
<path d="M288.7,532.2 L288.7,549 A8.7,4 0 0 0 306.1,549 L306.1,532.2" stroke="#000" stroke-width="1.38" fill="#fff"/>
<ellipse cx="297.4" cy="532.2" rx="8.7" ry="4.2" stroke="#000" stroke-width="1.38" fill="#fff"/>
<ellipse cx="297.4" cy="532.4" rx="5.6" ry="2.6" stroke="#000" stroke-width="1.49" fill="none"/>
<path d="M306.1,543.5 L371.8,543.9" stroke="#000" stroke-width="1.26" fill="none"/>
<text transform="translate(373.77 549.4) scale(1.35 1)" font-size="16.2">35</text>
<path d="M252.8,512.5 L252.8,517.5 Q259.2,522.5 265.6,517.5 L265.6,512.5" stroke="#000" stroke-width="1.38" fill="#fff"/>
<ellipse cx="259.2" cy="512.8" rx="6.4" ry="3.6" stroke="#000" stroke-width="1.49" fill="#fff"/>
<ellipse cx="259.2" cy="512.2" rx="4" ry="2.1" stroke="#000" stroke-width="1.26" fill="none"/>
<path d="M255.3,513 L255.3,518.5 M259.2,514.5 L259.2,520 M263,513 L263,518.5" stroke="#000" stroke-width="0.92" fill="none"/>
<path d="M255.6,520 L255.6,538 Q259,540.5 262.4,538 L262.4,520" stroke="#000" stroke-width="1.26" fill="#fff"/>
<path d="M255.6,523 Q259,525 262.4,523 M255.6,526 Q259,528 262.4,526 M255.6,529 Q259,531 262.4,529 M255.6,532 Q259,534 262.4,532 M255.6,535 Q259,537 262.4,535" stroke="#000" stroke-width="1.03" fill="none"/>
<path d="M258.7,543.3 L258.7,549.7 L279.5,561.6 L279.5,581.6" stroke="#000" stroke-width="1.26" fill="none"/>
<path d="M201.5,510.5 L252,516.5" stroke="#000" stroke-width="1.26" fill="none"/>
<text transform="translate(172.97 514.6) scale(1.35 1)" font-size="16.2">38</text>
<path d="M272,584.3 L272,597 A24.9,15.4 0 0 0 321.9,597 L321.9,584.3" stroke="#000" stroke-width="1.49" fill="#fff"/>
<ellipse cx="297" cy="584.3" rx="24.9" ry="15.4" stroke="#000" stroke-width="1.49" fill="#fff"/>
<path d="M272,588.5 A24.9,15.4 0 0 0 321.9,588.5" stroke="#000" stroke-width="1.38" fill="none"/>
<ellipse cx="279.8" cy="581.5" rx="3" ry="2" stroke="#000" stroke-width="1.26" fill="none"/>
<ellipse cx="288.7" cy="592.1" rx="3" ry="2" stroke="#000" stroke-width="1.26" fill="none"/>
<ellipse cx="306.7" cy="592.6" rx="3" ry="2" stroke="#000" stroke-width="1.26" fill="none"/>
<ellipse cx="313" cy="585.7" rx="3" ry="2" stroke="#000" stroke-width="1.26" fill="none"/>
<ellipse cx="309" cy="576" rx="3" ry="2" stroke="#000" stroke-width="1.26" fill="none"/>
<ellipse cx="300.3" cy="573.2" rx="3" ry="2" stroke="#000" stroke-width="1.26" fill="none"/>
<path d="M290.5,576 L293.5,573.8 L296,576 L296,580.5 L293,582 L290.5,580 Z M294,585 L297,582.8 L300,585 L300,589.5 L297,591 L294,589.5 Z" stroke="#000" stroke-width="1.26" fill="#fff"/>
<path d="M321.9,585.7 L371.8,569.1" stroke="#000" stroke-width="1.26" fill="none"/>
<text transform="translate(373.77 570.5) scale(1.35 1)" font-size="16.2">36</text>
<path d="M297,617.6 L297,684" stroke="#000" stroke-width="1.26" fill="none"/>
<ellipse cx="286.5" cy="652.2" rx="3.6" ry="2.2" stroke="#000" stroke-width="1.72" fill="none"/>
<path d="M254,643.9 L282.6,650.8" stroke="#000" stroke-width="1.26" fill="none"/>
<text transform="translate(230.50 646.1) scale(1.35 1)" font-size="16.2">41</text>
<path d="M285.7,657.8 L285.7,702" stroke="#000" stroke-width="1.26" fill="none"/>
<path d="M281.2,681.7 L281.2,703.3" stroke="#000" stroke-width="1.26" fill="none"/>
<path d="M390.6,582 L390.6,590.5 A3.9,1.8 0 0 0 398.4,590.5 L398.4,582" stroke="#000" stroke-width="1.26" fill="#fff"/>
<ellipse cx="394.5" cy="581.8" rx="3.9" ry="1.8" stroke="#000" stroke-width="1.26" fill="#fff"/>
<ellipse cx="394" cy="600.4" rx="4" ry="2.2" stroke="#000" stroke-width="1.84" fill="none"/>
<path d="M394,606.5 L394,611.5 L305.8,661.4 L305.8,710" stroke="#000" stroke-width="1.26" fill="none"/>
<path d="M398.5,583.4 L423.5,578.6" stroke="#000" stroke-width="1.26" fill="none"/>
<text transform="translate(425.37 582.7) scale(1.35 1)" font-size="16.2">39</text>
<path d="M398.1,601.3 L422.3,602" stroke="#000" stroke-width="1.26" fill="none"/>
<text transform="translate(425.70 607.2) scale(1.35 1)" font-size="16.2">40</text>
<path d="M 382.97,637.28 Q 385.49,630.73 393.05,628.97 Q 401.11,629.22 404.63,637.78 Q 406.4,645.84 402.12,651.64 Q 396.83,655.92 390.03,653.4 L 382.97,650.38 Z" stroke="#000" stroke-width="1.49" fill="#fff"/>
<path d="M 393.05,628.97 Q 398.59,637.78 395.57,653.9 M 385.99,631.49 Q 389.27,634.01 390.03,637.78 M 404.63,637.78 Q 401.86,640.3 400.1,644.08" stroke="#000" stroke-width="1.26" fill="none"/>
<path d="M 380.96,639.8 L 391.79,637.28 Q 395.57,644.08 393.05,653.4 L 382.47,653.4 Z" stroke="#000" stroke-width="1.38" fill="#fff"/>
<ellipse cx="381.71" cy="646.6" rx="4.53401" ry="7.0529" stroke="#000" stroke-width="1.49" fill="#fff" transform="rotate(-12 381.71 646.6)"/>
<path d="M 385.99,638.54 Q 389.52,645.34 387,653.4 M 389.02,638.04 Q 392.54,644.84 390.03,653.4 M 391.79,637.53 Q 395.06,644.33 392.8,653.4" stroke="#000" stroke-width="1.38" fill="none"/>
<path d="M368.13,651.54 L368.1,650.87 L368.12,650.24 L368.21,649.68 L368.35,649.19 L368.55,648.79 L368.8,648.47 L369.09,648.26 L369.43,648.14 L369.8,648.13 L370.19,648.22 L370.6,648.42 L371.03,648.71 L371.46,649.1 L371.87,649.57 L372.28,650.12 L372.66,650.73 L373.01,651.4 L373.33,652.1 L373.6,652.83 L373.82,653.57 L373.99,654.31 L374.1,655.03 L374.16,655.72 L374.15,656.36 L374.09,656.95 L373.96,657.46 L373.78,657.89 L373.55,658.24 L373.27,658.49 L372.94,658.63 L372.59,658.68" stroke="#000" stroke-width="1.95" fill="none"/>
<path d="M394,653.4 L400.4,663.8" stroke="#000" stroke-width="1.26" fill="none"/>
<text transform="translate(392.48 677.9) scale(1.35 1)" font-size="16.2">61</text>
<path d="M373.1,658.6 L378.6,674.5" stroke="#000" stroke-width="1.26" fill="none"/>
<text transform="translate(369.37 692) scale(1.35 1)" font-size="16.2">34</text>
<path d="M326,678.5 L368.5,654.5" stroke="#000" stroke-width="1.26" fill="none"/>
<text transform="translate(447.57 649.5) scale(1.35 1)" font-size="16.2">30</text>
<path d="M433,678 L433,661.6 L484.7,665.4 L484.7,705" stroke="#000" stroke-width="1.26" fill="none"/>
<path d="M433,690 L433,700" stroke="#000" stroke-width="1.26" fill="none"/>
<path d="M459.7,651.8 L459.1,673.4" stroke="#000" stroke-width="1.26" fill="none"/>
<text transform="translate(417.67 688.1) scale(1.35 1)" font-size="16.2">32</text>
<text transform="translate(447.17 691) scale(1.35 1)" font-size="16.2">31</text>
<path d="M432.8,693.6 L432.8,701.5" stroke="#000" stroke-width="1.26" fill="none"/>
<path d="M450.7,696.3 L447.6,702.7" stroke="#000" stroke-width="1.26" fill="none"/>
<ellipse cx="432.6" cy="709.5" rx="3.2" ry="8.6" stroke="#000" stroke-width="1.72" fill="none"/>
<ellipse cx="446.2" cy="710.6" rx="3.9" ry="9.5" stroke="#000" stroke-width="1.72" fill="none"/>
<path d="M427.6,709 L397.7,706.8 L375.5,774 L335.5,771.8" stroke="#000" stroke-width="1.26" fill="none"/>
<path d="M457,705.5 L473,704.5 L473,721.5 L457,721 Q454.5,713 457,705.5 Z" stroke="#000" stroke-width="1.38" fill="#fff"/>
<path d="M460,705.3 Q458,713 460,721 M463.5,705 Q461.5,713 463.5,721.2" stroke="#000" stroke-width="1.15" fill="none"/>
<path d="M473,703.8 L490,704.5 Q494.5,714 490,725.3 L473,723 Z" stroke="#000" stroke-width="1.38" fill="#fff"/>
<ellipse cx="489.8" cy="715" rx="3.6" ry="10.3" stroke="#000" stroke-width="1.38" fill="#fff"/>
<path d="M475,703.9 Q472.5,713.5 475,723.3 M477.6,703.9 Q475.1,713.5 477.6,723.3 M480.2,703.9 Q477.7,713.5 480.2,723.3 M482.8,703.9 Q480.3,713.5 482.8,723.3 M485.4,703.9 Q482.9,713.5 485.4,723.3 M488,703.9 Q485.5,713.5 488,723.3" stroke="#000" stroke-width="1.26" fill="none"/>
<path d="M89,774.8 L107,776 Q111,783 107.5,791 L89,791.5 Z" stroke="#000" stroke-width="1.38" fill="#fff"/>
<path d="M100.5,775.5 Q98.5,783.5 100.5,791.2 M103.5,775.8 Q101.5,783.5 103.5,791" stroke="#000" stroke-width="1.15" fill="none"/>
<ellipse cx="107.6" cy="783.5" rx="3.2" ry="7.6" stroke="#000" stroke-width="1.38" fill="#fff"/>
<ellipse cx="107.8" cy="783.5" rx="1.5" ry="3.2" stroke="#000" stroke-width="1.15" fill="none"/>
<path d="M74.5,770.8 L89.5,771.5 L89.5,792.3 L74.5,790.5 Q71,780 74.5,770.8 Z" stroke="#000" stroke-width="1.38" fill="#fff"/>
<path d="M76.6,771 Q74,781 76.6,791.6 M79,771 Q76.4,781 79,791.6 M81.4,771 Q78.8,781 81.4,791.6 M83.8,771 Q81.2,781 83.8,791.6 M86.2,771 Q83.6,781 86.2,791.6 M88.6,771 Q86,781 88.6,791.6" stroke="#000" stroke-width="1.26" fill="none"/>
<ellipse cx="120" cy="785.7" rx="3.9" ry="9.7" stroke="#000" stroke-width="1.61" fill="none"/>
<ellipse cx="131.7" cy="787.1" rx="3.5" ry="8.6" stroke="#000" stroke-width="1.61" fill="none"/>
<ellipse cx="147.8" cy="788.5" rx="3.4" ry="6.6" stroke="#000" stroke-width="1.95" fill="none"/>
<path d="M156,787 L160,786.5 L160,797 L156,796.5 Q154.5,792 156,787 Z" stroke="#000" stroke-width="1.26" fill="#fff"/>
<path d="M160,784 L175,785 L175,799.5 L160,799 Q157.5,791.5 160,784 Z" stroke="#000" stroke-width="1.38" fill="#fff"/>
<ellipse cx="175.2" cy="792.2" rx="2.8" ry="7.3" stroke="#000" stroke-width="1.38" fill="#fff"/>
<path d="M176,788.5 L180.5,789 Q182.2,792.5 180.5,796 L176,796" stroke="#000" stroke-width="1.26" fill="#fff"/>
<ellipse cx="180.3" cy="792.5" rx="1.3" ry="3.3" stroke="#000" stroke-width="1.15" fill="none"/>
<path d="M185.2,792.6 L201.8,794 L214.3,760.8 L244.7,763.6" stroke="#000" stroke-width="1.26" fill="none"/>
<path d="M113.1,814.8 L119.2,795.4" stroke="#000" stroke-width="1.26" fill="none"/>
<text transform="translate(96.47 827.3) scale(1.35 1)" font-size="16.2">31</text>
<path d="M130.3,814.3 L130.3,795.4" stroke="#000" stroke-width="1.26" fill="none"/>
<text transform="translate(121.97 828.7) scale(1.35 1)" font-size="16.2">32</text>
<path d="M79.3,792.6 L79.3,835 L130.3,842 L130.3,835.6" stroke="#000" stroke-width="1.26" fill="none"/>
<path d="M106.2,834.2 L104.3,844.7" stroke="#000" stroke-width="1.26" fill="none"/>
<text transform="translate(89.57 859.1) scale(1.35 1)" font-size="16.2">30</text>
<path d="M147.8,795.4 L153.3,846.7" stroke="#000" stroke-width="1.26" fill="none"/>
<text transform="translate(144.17 863.9) scale(1.35 1)" font-size="16.2">34</text>
<path d="M172.7,801 L184.6,850.8" stroke="#000" stroke-width="1.26" fill="none"/>
<text transform="translate(176.07 866.9) scale(1.35 1)" font-size="16.2">33</text>
<path d="M227.3,878.5 L262,833" stroke="#000" stroke-width="1.26" fill="none"/>
<text transform="translate(205.41 896) scale(1.35 1)" font-size="16.2">27</text>
<ellipse cx="194.9" cy="570.3" rx="6.4" ry="2.6" stroke="#000" stroke-width="1.49" fill="#fff"/>
<ellipse cx="194.9" cy="573.42" rx="6.4" ry="2.6" stroke="#000" stroke-width="1.49" fill="none"/>
<ellipse cx="194.9" cy="576.54" rx="6.4" ry="2.6" stroke="#000" stroke-width="1.49" fill="none"/>
<ellipse cx="194.9" cy="579.66" rx="6.4" ry="2.6" stroke="#000" stroke-width="1.49" fill="none"/>
<ellipse cx="194.9" cy="582.78" rx="6.4" ry="2.6" stroke="#000" stroke-width="1.49" fill="none"/>
<ellipse cx="194.9" cy="585.9" rx="6.4" ry="2.6" stroke="#000" stroke-width="1.49" fill="none"/>
<path d="M156,560 L189.3,571.9" stroke="#000" stroke-width="1.26" fill="none"/>
<text transform="translate(129.43 560) scale(1.35 1)" font-size="16.2">55</text>
<ellipse cx="195.4" cy="597.4" rx="5.6" ry="3.7" stroke="#000" stroke-width="1.72" fill="#fff"/>
<ellipse cx="195.4" cy="597.4" rx="2.6" ry="1.5" stroke="#000" stroke-width="1.49" fill="none"/>
<path d="M156,584.3 L190.2,596.8" stroke="#000" stroke-width="1.26" fill="none"/>
<text transform="translate(129.43 586.5) scale(1.35 1)" font-size="16.2">56</text>
<path d="M189.3,613.5 L189.3,618.5 A5.9,3.2 0 0 0 201.1,618.5 L201.1,613.5" stroke="#000" stroke-width="1.49" fill="#fff"/>
<ellipse cx="195.2" cy="613.3" rx="5.9" ry="3.4" stroke="#000" stroke-width="1.49" fill="#fff"/>
<ellipse cx="195.2" cy="613.3" rx="2.8" ry="1.5" stroke="#000" stroke-width="1.49" fill="none"/>
<path d="M154.7,608.7 L189.3,615.4" stroke="#000" stroke-width="1.26" fill="none"/>
<text transform="translate(129.43 612.6) scale(1.35 1)" font-size="16.2">57</text>
<path d="M194.9,627.3 L194.9,632.8 L280.4,682.7" stroke="#000" stroke-width="1.26" fill="none" stroke-dasharray="70 3 4 3"/>
<path d="M75.89,643.67 L75.97,645.15 L75.89,646.67 L75.65,648.18 L75.27,649.67 L74.74,651.1 L74.08,652.43 L73.3,653.65 L72.42,654.73 L71.45,655.65 L70.42,656.39 L69.34,656.93 L68.24,657.26 L67.14,657.38 L66.06,657.28 L65.02,656.97 L64.05,656.46 L63.16,655.74 L62.37,654.84 L61.7,653.78 L61.16,652.57 L60.77,651.24 L60.52,649.83 L60.43,648.35 L60.5,646.83 L60.73,645.31 L61.1,643.83 L61.62,642.39 L62.27,641.05 L63.04,639.82 L63.92,638.73 L64.88,637.8 L65.91,637.05 L66.99,636.5 L68.09,636.15 L69.19,636.02 L70.27,636.1 L71.32,636.4 L72.29,636.9" stroke="#000" stroke-width="1.72" fill="none"/>
<path d="M73.55,645.04 L73.52,646.15 L73.39,647.26 L73.15,648.37 L72.81,649.44 L72.38,650.46 L71.87,651.4 L71.28,652.25 L70.63,652.99 L69.94,653.6 L69.2,654.07 L68.45,654.4 L67.7,654.57 L66.95,654.59 L66.23,654.44 L65.55,654.15 L64.92,653.7 L64.35,653.11 L63.87,652.4 L63.47,651.57 L63.16,650.65 L62.96,649.64 L62.86,648.58 L62.87,647.48 L62.98,646.36 L63.2,645.25 L63.52,644.17 L63.93,643.14 L64.42,642.18 L65,641.31 L65.63,640.55 L66.32,639.91 L67.05,639.41 L67.8,639.05 L68.55,638.85 L69.3,638.8 L70.03,638.91 L70.72,639.18" stroke="#000" stroke-width="1.38" fill="none"/>
<path d="M64.6,607.3 L71.6,634.2" stroke="#000" stroke-width="1.26" fill="none"/>
<text transform="translate(51.70 603.2) scale(1.35 1)" font-size="16.2">42</text>
<path d="M 86.8,648.29 L 82.65,647.18 L 77.66,653.55 L 77.66,661.03 L 82.09,665.47 L 85.42,667.41 Z" stroke="#000" stroke-width="1.49" fill="#fff"/>
<path d="M 82.65,647.18 L 82.09,656.32 L 82.09,665.47 M 77.66,657.15 L 82.09,659.09" stroke="#000" stroke-width="1.15" fill="none"/>
<path d="M 86.8,648.29 L 125.59,670.45 Q 129.75,676.55 124.76,683.2 Q 121.44,685.42 115.9,684.03 L 85.42,667.41 Q 82.65,657.71 86.8,648.29 Z" stroke="#000" stroke-width="1.49" fill="#fff"/>
<path d="M 93.18,651.92 Q 94.84,661.28 90.4,670.12 M 96.5,653.83 Q 98.16,663.14 93.73,671.92 M 99.83,655.71 Q 101.49,665 97.05,673.75 M 103.15,657.63 Q 104.81,666.85 100.38,675.55 M 106.48,659.51 Q 108.14,668.74 103.7,677.38 M 109.8,661.42 Q 111.46,670.59 107.03,679.18" stroke="#000" stroke-width="1.61" fill="none"/>
<path d="M 89.57,649.95 Q 91.51,659.09 87.08,668.24" stroke="#000" stroke-width="1.26" fill="none"/>
<ellipse cx="121.44" cy="676.83" rx="3.60211" ry="7.4813" stroke="#000" stroke-width="1.38" fill="none" transform="rotate(-15 121.44 676.83)"/>
<path d="M91.5,621.7 L95.1,646.7" stroke="#000" stroke-width="1.26" fill="none"/>
<text transform="translate(78.80 619) scale(1.35 1)" font-size="16.2">43</text>
<ellipse cx="136.1" cy="685.4" rx="6.2" ry="11.2" stroke="#000" stroke-width="1.72" fill="none" transform="rotate(28 136.1 685.4)"/>
<path d="M118.1,636.9 L133.9,675.7" stroke="#000" stroke-width="1.26" fill="none"/>
<text transform="translate(103.80 632.8) scale(1.35 1)" font-size="16.2">44</text>
<ellipse cx="149.7" cy="693.7" rx="3.9" ry="6.6" stroke="#000" stroke-width="1.72" fill="none" transform="rotate(28 149.7 693.7)"/>
<path d="M139.4,649.4 L148.6,686.8" stroke="#000" stroke-width="1.26" fill="none"/>
<text transform="translate(127.28 646.6) scale(1.35 1)" font-size="16.2">63</text>
<ellipse cx="160.8" cy="699.3" rx="4.4" ry="6.4" stroke="#000" stroke-width="1.61" fill="none" transform="rotate(25 160.8 699.3)"/>
<ellipse cx="160.8" cy="699.3" rx="1.6" ry="2.6" stroke="#000" stroke-width="1.38" fill="none" transform="rotate(25 160.8 699.3)"/>
<path d="M160.2,661.9 L160.2,693.2" stroke="#000" stroke-width="1.26" fill="none"/>
<text transform="translate(148.10 659.1) scale(1.35 1)" font-size="16.2">45</text>
<ellipse cx="169.5" cy="703.5" rx="3.116" ry="8.2" stroke="#000" stroke-width="1.61" fill="none" transform="rotate(32.34744349944203 169.5 703.5)"/>
<ellipse cx="172.5" cy="705.4" rx="3.116" ry="8.2" stroke="#000" stroke-width="1.61" fill="none" transform="rotate(32.34744349944203 172.5 705.4)"/>
<ellipse cx="175.5" cy="707.3" rx="3.116" ry="8.2" stroke="#000" stroke-width="1.61" fill="none" transform="rotate(32.34744349944203 175.5 707.3)"/>
<ellipse cx="178.5" cy="709.2" rx="3.116" ry="8.2" stroke="#000" stroke-width="1.61" fill="none" transform="rotate(32.34744349944203 178.5 709.2)"/>
<ellipse cx="181.5" cy="711.1" rx="3.116" ry="8.2" stroke="#000" stroke-width="1.61" fill="none" transform="rotate(32.34744349944203 181.5 711.1)"/>
<ellipse cx="184.5" cy="713" rx="3.116" ry="8.2" stroke="#000" stroke-width="1.61" fill="#fff" transform="rotate(32.34744349944203 184.5 713)"/>
<path d="M181.8,674.3 L174.1,699.3" stroke="#000" stroke-width="1.26" fill="none"/>
<text transform="translate(170.30 671.6) scale(1.35 1)" font-size="16.2">46</text>
<path d="M193.5,716 L201,714.5 Q207.5,717 207.3,724 L200,729 Q194,729.5 192,724 Q191,719 193.5,716 Z" stroke="#000" stroke-width="1.49" fill="#fff"/>
<ellipse cx="195.8" cy="722.3" rx="3.4" ry="6.2" stroke="#000" stroke-width="1.38" fill="none" transform="rotate(20 195.8 722.3)"/>
<path d="M205.1,689.6 L205.1,715.9" stroke="#000" stroke-width="1.26" fill="none"/>
<text transform="translate(193.00 684.6) scale(1.35 1)" font-size="16.2">47</text>
<ellipse cx="214.8" cy="730.3" rx="3.6" ry="5.4" stroke="#000" stroke-width="1.61" fill="none" transform="rotate(25 214.8 730.3)"/>
<ellipse cx="214.8" cy="730.3" rx="1.4" ry="2.4" stroke="#000" stroke-width="1.26" fill="none" transform="rotate(25 214.8 730.3)"/>
<path d="M227.3,702.6 L216.2,727" stroke="#000" stroke-width="1.26" fill="none"/>
<text transform="translate(218.80 699.3) scale(1.35 1)" font-size="16.2">45</text>
<path d="M219.8,733.9 L246.1,746.4" stroke="#000" stroke-width="1.26" fill="none"/>
<path d="M 66.02,684.03 L 134.74,724.76 Q 136.95,728.37 134.18,731.41 L 131.14,731.14 L 62.7,690.4 Z" stroke="#000" stroke-width="1.49" fill="#fff"/>
<path d="M 53.55,675.72 L 66.02,682.09 Q 68.79,686.8 65.47,694.28 L 62.7,695.95 L 52.17,690.4 Z" stroke="#000" stroke-width="1.49" fill="#fff"/>
<path d="M60.97,681.83 L61.48,681.94 L62.01,682.17 L62.55,682.55 L63.1,683.04 L63.64,683.66 L64.16,684.38 L64.65,685.19 L65.1,686.07 L65.51,687.01 L65.86,687.99 L66.15,688.99 L66.38,689.99 L66.53,690.98 L66.61,691.92 L66.61,692.81 L66.53,693.62 L66.38,694.34 L66.16,694.96 L65.88,695.47 L65.53,695.85" stroke="#000" stroke-width="1.38" fill="none"/>
<ellipse cx="53.55" cy="683.2" rx="3.60211" ry="7.75838" stroke="#000" stroke-width="1.49" fill="#fff" transform="rotate(-18 53.55 683.2)"/>
<path d="M 52.17,679.32 L 55.49,680.71 L 55.49,685.42 L 52.72,687.36 L 51.06,684.86 Z" stroke="#000" stroke-width="1.03" fill="none"/>
<path d="M 116.45,714.01 Q 114.23,716.78 113.13,720.66 M 119.22,715.65 Q 117,718.42 115.9,722.3 M 121.99,717.28 Q 119.78,720.05 118.67,723.93 M 124.76,718.94 Q 122.55,721.72 121.44,725.59 M 127.53,720.58 Q 125.32,723.35 124.21,727.23 M 130.3,722.21 Q 128.09,724.98 126.98,728.86 M 133.08,723.88 Q 130.86,726.65 129.75,730.53" stroke="#000" stroke-width="1.49" fill="none"/>
<path d="M62.7,725.6 L82.6,704.8" stroke="#000" stroke-width="1.26" fill="none"/>
<text transform="translate(38.58 740.3) scale(1.35 1)" font-size="16.2">62</text>
<path d="M140.3,733.1 L262,802" stroke="#000" stroke-width="1.26" fill="none" stroke-dasharray="60 3 4 3"/>
<path d="M453,786.6 L425.3,770.7 L362.3,805.3 L317,779" stroke="#000" stroke-width="1.26" fill="none"/>
<path d="M433,803.5 L411.7,792.9 L366.9,818.5 L323,795" stroke="#000" stroke-width="1.26" fill="none"/>
<path d="M320.2,800.2 L476.7,888.2" stroke="#000" stroke-width="1.38" fill="none"/>
<path d="M310.7,806.5 L464.6,895.7" stroke="#000" stroke-width="1.38" fill="none"/>
<path d="M318.9,816.6 L460,898" stroke="#000" stroke-width="1.38" fill="none"/>
<path d="M331,823 L352,835" stroke="#000" stroke-width="1.03" fill="none" stroke-dasharray="6 3 2 3"/>
<path d="M307.6,831.7 L609.1,1003.3" stroke="#000" stroke-width="1.38" fill="none" stroke-dasharray="93 4 3 4 600"/>
<path d="M560,956.7 L609.1,984.4" stroke="#000" stroke-width="1.38" fill="none"/>
<path d="M474.2,906.4 L525.5,935.5" stroke="#000" stroke-width="1.26" fill="none" stroke-dasharray="40 3 4 3"/>
<path d="M549.6,950 L560,956.3" stroke="#000" stroke-width="1.38" fill="none"/>
<path d="M333,797 Q336,800 334,804 M340,799 Q337,803 340,807 M345,800 L347,804 M348,801 L350,805 M338,812 Q342,808 346,811 Q348,814 352,812" stroke="#000" stroke-width="1.15" fill="none"/>
<ellipse cx="455" cy="787.8" rx="1.9" ry="4.8" stroke="#000" stroke-width="1.72" fill="none" transform="rotate(28.66395711028167 455 787.8)"/>
<ellipse cx="457.143" cy="788.971" rx="1.9" ry="4.8" stroke="#000" stroke-width="1.72" fill="none" transform="rotate(28.66395711028167 457.143 788.971)"/>
<ellipse cx="459.286" cy="790.143" rx="1.9" ry="4.8" stroke="#000" stroke-width="1.72" fill="none" transform="rotate(28.66395711028167 459.286 790.143)"/>
<ellipse cx="461.429" cy="791.314" rx="1.9" ry="4.8" stroke="#000" stroke-width="1.72" fill="none" transform="rotate(28.66395711028167 461.429 791.314)"/>
<ellipse cx="463.571" cy="792.486" rx="1.9" ry="4.8" stroke="#000" stroke-width="1.72" fill="none" transform="rotate(28.66395711028167 463.571 792.486)"/>
<ellipse cx="465.714" cy="793.657" rx="1.9" ry="4.8" stroke="#000" stroke-width="1.72" fill="none" transform="rotate(28.66395711028167 465.714 793.657)"/>
<ellipse cx="467.857" cy="794.829" rx="1.9" ry="4.8" stroke="#000" stroke-width="1.72" fill="none" transform="rotate(28.66395711028167 467.857 794.829)"/>
<ellipse cx="470" cy="796" rx="1.9" ry="4.8" stroke="#000" stroke-width="1.72" fill="#fff" transform="rotate(28.66395711028167 470 796)"/>
<ellipse cx="433.8" cy="804.5" rx="1.9" ry="4.8" stroke="#000" stroke-width="1.72" fill="none" transform="rotate(30.03784474567347 433.8 804.5)"/>
<ellipse cx="435.9" cy="805.714" rx="1.9" ry="4.8" stroke="#000" stroke-width="1.72" fill="none" transform="rotate(30.03784474567347 435.9 805.714)"/>
<ellipse cx="438" cy="806.929" rx="1.9" ry="4.8" stroke="#000" stroke-width="1.72" fill="none" transform="rotate(30.03784474567347 438 806.929)"/>
<ellipse cx="440.1" cy="808.143" rx="1.9" ry="4.8" stroke="#000" stroke-width="1.72" fill="none" transform="rotate(30.03784474567347 440.1 808.143)"/>
<ellipse cx="442.2" cy="809.357" rx="1.9" ry="4.8" stroke="#000" stroke-width="1.72" fill="none" transform="rotate(30.03784474567347 442.2 809.357)"/>
<ellipse cx="444.3" cy="810.571" rx="1.9" ry="4.8" stroke="#000" stroke-width="1.72" fill="none" transform="rotate(30.03784474567347 444.3 810.571)"/>
<ellipse cx="446.4" cy="811.786" rx="1.9" ry="4.8" stroke="#000" stroke-width="1.72" fill="none" transform="rotate(30.03784474567347 446.4 811.786)"/>
<ellipse cx="448.5" cy="813" rx="1.9" ry="4.8" stroke="#000" stroke-width="1.72" fill="#fff" transform="rotate(30.03784474567347 448.5 813)"/>
<path d="M476.5,796.6 L482.5,800 L480.2,804.4 L474.2,801 Q473.5,797.5 476.5,796.6 Z" stroke="#000" stroke-width="1.26" fill="#fff"/>
<ellipse cx="485" cy="804" rx="4.2" ry="5.2" stroke="#000" stroke-width="1.38" fill="#fff" transform="rotate(-25 485 804)"/>
<path d="M481.6,799.6 Q479,803 482.4,808.2" stroke="#000" stroke-width="1.26" fill="none"/>
<path d="M483.4,802.4 L487.6,805.6 M486.6,801.6 L484.2,806.4" stroke="#000" stroke-width="1.03" fill="none"/>
<path d="M454.8,814.6 L460.8,818 L458.5,822.4 L452.5,819 Q451.8,815.5 454.8,814.6 Z" stroke="#000" stroke-width="1.26" fill="#fff"/>
<ellipse cx="463.3" cy="822" rx="4.2" ry="5.2" stroke="#000" stroke-width="1.38" fill="#fff" transform="rotate(-25 463.3 822)"/>
<path d="M459.9,817.6 Q457.3,821 460.7,826.2" stroke="#000" stroke-width="1.26" fill="none"/>
<path d="M461.7,820.4 L465.9,823.6 M464.9,819.6 L462.5,824.4" stroke="#000" stroke-width="1.03" fill="none"/>
<ellipse cx="496.2" cy="811" rx="3.1" ry="3.1" stroke="#000" stroke-width="1.26" fill="none"/>
<ellipse cx="475" cy="828.8" rx="3" ry="3" stroke="#000" stroke-width="1.26" fill="none"/>
<path d="M499.7,813.6 L524.1,827.4" stroke="#000" stroke-width="1.26" fill="none"/>
<path d="M479.7,831.6 L501.9,844" stroke="#000" stroke-width="1.26" fill="none"/>
<ellipse cx="531.8" cy="831" rx="4.2" ry="7.6" stroke="#000" stroke-width="2.07" fill="none" transform="rotate(32 531.8 831)"/>
<ellipse cx="508" cy="848.2" rx="4.2" ry="7.6" stroke="#000" stroke-width="2.07" fill="none" transform="rotate(32 508 848.2)"/>
<path d="M538.5,832.1 L574,839.9 L514.4,846.8" stroke="#000" stroke-width="1.26" fill="none"/>
<text transform="translate(576.21 844.9) scale(1.35 1)" font-size="16.2">24</text>
<path d="M466.6,753.7 L461.6,785.4" stroke="#000" stroke-width="1.26" fill="none"/>
<text transform="translate(455.48 749.1) scale(1.35 1)" font-size="16.2">60</text>
<path d="M488.4,767.3 L483.2,800.2" stroke="#000" stroke-width="1.26" fill="none"/>
<text transform="translate(478.93 762.1) scale(1.35 1)" font-size="16.2">58</text>
<path d="M511,779.7 L497.9,808.1" stroke="#000" stroke-width="1.26" fill="none"/>
<text transform="translate(501.53 775.2) scale(1.35 1)" font-size="16.2">59</text>
<path d="M409.9,816.3 L432.6,808.8" stroke="#000" stroke-width="1.26" fill="none"/>
<text transform="translate(383.88 825.2) scale(1.35 1)" font-size="16.2">60</text>
<path d="M432.1,828.8 L457.6,823.8" stroke="#000" stroke-width="1.26" fill="none"/>
<text transform="translate(406.83 839.3) scale(1.35 1)" font-size="16.2">58</text>
<path d="M454.3,840.4 L472.3,831" stroke="#000" stroke-width="1.26" fill="none"/>
<text transform="translate(429.03 852.3) scale(1.35 1)" font-size="16.2">59</text>
<ellipse cx="480.3" cy="890.3" rx="2.7" ry="5.4" stroke="#000" stroke-width="1.84" fill="#fff" transform="rotate(28 480.3 890.3)"/>
<ellipse cx="490.3" cy="890.3" rx="2.7" ry="5.4" stroke="#000" stroke-width="1.84" fill="#fff" transform="rotate(28 490.3 890.3)"/>
<ellipse cx="501.9" cy="900.8" rx="2.7" ry="5.4" stroke="#000" stroke-width="1.84" fill="#fff" transform="rotate(28 501.9 900.8)"/>
<ellipse cx="468.7" cy="898.1" rx="2.7" ry="5.4" stroke="#000" stroke-width="1.84" fill="#fff" transform="rotate(28 468.7 898.1)"/>
<path d="M489.4,873.1 L481.1,888.4" stroke="#000" stroke-width="1.26" fill="none"/>
<text transform="translate(480.01 869) scale(1.35 1)" font-size="16.2">26</text>
<path d="M493.6,888.4 L522.7,879.2 L504.7,899.4" stroke="#000" stroke-width="1.26" fill="none"/>
<text transform="translate(523.51 875.3) scale(1.35 1)" font-size="16.2">26</text>
<path d="M435.4,934.1 L466.5,900.8" stroke="#000" stroke-width="1.26" fill="none"/>
<text transform="translate(409.91 950.2) scale(1.35 1)" font-size="16.2">26</text>
<ellipse cx="533.4" cy="940.8" rx="4.4" ry="7.8" stroke="#000" stroke-width="1.49" fill="#b8b8b8" transform="rotate(25 533.4 940.8)"/>
<path d="M530,936 L537,946 M529.8,944.5 L537,937.5 M535.5,933.8 L531.3,947.8 M529.3,940 L537.6,941.8" stroke="#000" stroke-width="1.03" fill="none"/>
<path d="M549.6,911.9 L536.6,934.1" stroke="#000" stroke-width="1.26" fill="none"/>
<text transform="translate(547.91 908.6) scale(1.35 1)" font-size="16.2">25</text>
<ellipse cx="549" cy="950.2" rx="4.2" ry="7.4" stroke="#000" stroke-width="2.07" fill="#fff" transform="rotate(28 549 950.2)"/>
<path d="M572.6,925.8 L552.3,944.6" stroke="#000" stroke-width="1.26" fill="none"/>
<text transform="translate(571.51 921.6) scale(1.35 1)" font-size="16.2">24</text>
<path d="M488.3,558.9 L536.5,573.7" stroke="#000" stroke-width="1.26" fill="none"/>
<text transform="translate(460.34 560.8) scale(1.35 1)" font-size="16.2">15</text>
<path d="M311.8,867.5 L311.8,876.5 Q313,878 313.6,878.8 L313.6,883 Q315.7,884.8 317.9,883 L317.9,878.8 Q319,878 319.8,876.5 L319.8,867.5" stroke="#000" stroke-width="1.38" fill="#fff"/>
<ellipse cx="315.8" cy="867.3" rx="4" ry="1.9" stroke="#000" stroke-width="1.38" fill="#fff"/>
<path d="M311.8,871 Q315.8,873.5 319.8,871 M311.8,874 Q315.8,876.5 319.8,874" stroke="#000" stroke-width="1.15" fill="none"/>
<path d="M274.4,873.4 L311.8,872.7" stroke="#000" stroke-width="1.26" fill="none"/>
<text transform="translate(247.20 878.3) scale(1.35 1)" font-size="16.2">48</text>
<ellipse cx="315.7" cy="892.6" rx="4.1" ry="2.3" stroke="#000" stroke-width="1.84" fill="none"/>
<path d="M274,894.2 L311.1,893.1" stroke="#000" stroke-width="1.26" fill="none"/>
<text transform="translate(246.83 899.9) scale(1.35 1)" font-size="16.2">51</text>
<ellipse cx="315.7" cy="904.4" rx="6.8" ry="4.1" stroke="#000" stroke-width="1.95" fill="none"/>
<path d="M275.5,916.2 L309.1,905.5" stroke="#000" stroke-width="1.26" fill="none"/>
<text transform="translate(246.83 923) scale(1.35 1)" font-size="16.2">50</text>
<ellipse cx="315.9" cy="917.6" rx="8.2" ry="5" stroke="#000" stroke-width="1.95" fill="none"/>
<path d="M274.9,936.1 L308.4,920.7" stroke="#000" stroke-width="1.26" fill="none"/>
<text transform="translate(246.87 944.1) scale(1.35 1)" font-size="16.2">34</text>
<path d="M310.7,930 L310.7,941 L309.3,943 L309.3,953 L308,955 L308,963.5 Q315.9,970.5 323.8,963.5 L323.8,955 L322.5,953 L322.5,943 L320.9,941 L320.9,930" stroke="#000" stroke-width="1.49" fill="#fff"/>
<ellipse cx="315.8" cy="930" rx="5.1" ry="2.6" stroke="#000" stroke-width="1.49" fill="#fff"/>
<path d="M310.8,934 Q315.9,938.2 321,934 M310.8,938 Q315.9,942.2 321,938 M309.3,942.5 Q315.9,946.7 322.5,942.5 M309.3,946 Q315.9,950.2 322.5,946 M309.3,949.5 Q315.9,953.7 322.5,949.5 M308,953.5 Q315.9,957.7 323.8,953.5 M308,956.5 Q315.9,960.7 323.8,956.5 M308,959.5 Q315.9,963.7 323.8,959.5 M308,962 Q315.9,966.2 323.8,962" stroke="#000" stroke-width="1.38" fill="none"/>
<path d="M274.4,960.6 L308.4,955.4" stroke="#000" stroke-width="1.26" fill="none"/>
<text transform="translate(247.20 965.6) scale(1.35 1)" font-size="16.2">49</text>
<path d="M311,977 L311,981.5 Q315.6,985.5 320.3,981.5 L320.3,977 Q315.6,973.5 311,977 Z" stroke="#000" stroke-width="1.49" fill="#fff"/>
<path d="M313.5,975.5 L313.5,973.5 Q315.6,972 317.8,973.5 L317.8,975.5" stroke="#000" stroke-width="1.38" fill="#fff"/>
<ellipse cx="315.6" cy="978.5" rx="2.2" ry="1.3" stroke="#000" stroke-width="1.15" fill="none"/>
<ellipse cx="315.8" cy="989" rx="4.6" ry="2.3" stroke="#000" stroke-width="1.61" fill="#fff"/>
<ellipse cx="315.8" cy="992.017" rx="4.6" ry="2.3" stroke="#000" stroke-width="1.61" fill="none"/>
<ellipse cx="315.8" cy="995.033" rx="4.6" ry="2.3" stroke="#000" stroke-width="1.61" fill="none"/>
<ellipse cx="315.8" cy="998.05" rx="4.6" ry="2.3" stroke="#000" stroke-width="1.61" fill="none"/>
<ellipse cx="315.8" cy="1001.07" rx="4.6" ry="2.3" stroke="#000" stroke-width="1.61" fill="none"/>
<ellipse cx="315.8" cy="1004.08" rx="4.6" ry="2.3" stroke="#000" stroke-width="1.61" fill="none"/>
<ellipse cx="315.8" cy="1007.1" rx="4.6" ry="2.3" stroke="#000" stroke-width="1.61" fill="none"/>
<path d="M274.3,986.7 L310.8,994.3" stroke="#000" stroke-width="1.26" fill="none"/>
<text transform="translate(246.83 989.7) scale(1.35 1)" font-size="16.2">52</text>
<ellipse cx="315.4" cy="1020" rx="8.2" ry="5" stroke="#000" stroke-width="1.95" fill="none"/>
<path d="M274.3,1013.2 L307,1020" stroke="#000" stroke-width="1.26" fill="none"/>
<text transform="translate(246.83 1016.9) scale(1.35 1)" font-size="16.2">53</text>
<path d="M307,1035.8 L307,1049 Q316,1056.5 325.2,1049 L325.2,1035.8" stroke="#000" stroke-width="1.49" fill="#fff"/>
<ellipse cx="316.1" cy="1035.8" rx="9.1" ry="4.8" stroke="#000" stroke-width="1.49" fill="#fff"/>
<ellipse cx="316.1" cy="1035.8" rx="5.6" ry="2.8" stroke="#000" stroke-width="1.49" fill="none"/>
<ellipse cx="316.1" cy="1036.4" rx="3.3" ry="1.5" stroke="#000" stroke-width="1.15" fill="none"/>
<path d="M307,1038.5 Q316.1,1046 325.2,1038.5 M307,1041.5 Q316.1,1049 325.2,1041.5 M307,1044.5 Q316.1,1052 325.2,1044.5 M307,1047 Q316.1,1054.5 325.2,1047" stroke="#000" stroke-width="1.38" fill="none"/>
<path d="M274.3,1039.1 L307,1041.6" stroke="#000" stroke-width="1.26" fill="none"/>
<text transform="translate(246.83 1043.4) scale(1.35 1)" font-size="16.2">54</text>
<path d="M40.3,1046.6 L60.5,1017.1 L65,1023.2 L95.7,1008.1 L98.2,1031.5 L63.5,1049.1 L66.8,1060.5 Z" stroke="#000" stroke-width="1.38" fill="#fff"/>
<path d="M60.5,1017.1 L57,1021 L46,1037.5 M65,1023.2 L61.5,1027.5 L60.5,1017.1 M61.5,1027.5 L46,1046 M95.7,1008.1 L92.5,1011.5 L63.5,1026 M92.5,1011.5 L94.5,1033" stroke="#000" stroke-width="1.15" fill="none"/>
<text transform="translate(65 1046.3) rotate(-27) skewX(-10) scale(0.76 1)" font-size="19" font-weight="bold">FWD</text>
<text transform="translate(11.22 1084.4) scale(1.372 1)" font-size="14">65W0010-8250</text>
<path d="M653,469 L653,571 Q661.5,576 670.1,571 L670.1,469" stroke="#000" stroke-width="1.49" fill="#fff"/>
<ellipse cx="661.3" cy="484.6" rx="26.4" ry="13" stroke="#000" stroke-width="1.95" fill="none"/>
<path d="M631.1,443 L631.4,452 Q633,457 636,458.5 A26.5,14 0 0 0 687,458.5 Q690.5,456 692,452 L692.5,443" stroke="#000" stroke-width="1.49" fill="#fff"/>
<path d="M631.3,447.5 A30.7,17.6 0 0 0 692.3,447.5 M632,451.5 A30,17 0 0 0 691.6,451.5 M634,456 A28,15.5 0 0 0 689.5,456" stroke="#000" stroke-width="1.38" fill="none"/>
<ellipse cx="661.8" cy="443" rx="30.7" ry="17.6" stroke="#000" stroke-width="1.49" fill="#fff"/>
<path d="M648.9,444.3 L648.9,448 A12.1,4.3 0 0 0 673.1,448 L673.1,444.3" stroke="#000" stroke-width="1.38" fill="#fff"/>
<ellipse cx="661" cy="444.3" rx="12.1" ry="4.3" stroke="#000" stroke-width="1.38" fill="#fff"/>
<path d="M652.5,423 L652.5,444 A8.8,3 0 0 0 670.1,444 L670.1,425" stroke="#000" stroke-width="1.49" fill="#fff"/>
<path d="M 650.45,391.41 L 678.16,402.75 Q 683.7,410.3 678.16,424.16 Q 673.12,430.45 665.57,425.92 L 642.9,414.08 Q 639.12,405.26 643.4,397.2 Q 645.92,392.17 650.45,391.41 Z" stroke="#000" stroke-width="1.49" fill="#fff"/>
<ellipse cx="671.11" cy="414.84" rx="9.57179" ry="12.8463" stroke="#000" stroke-width="1.49" fill="#fff" transform="rotate(18 671.11 414.84)"/>
<ellipse cx="671.36" cy="415.09" rx="5.54156" ry="8.31234" stroke="#000" stroke-width="1.49" fill="none" transform="rotate(18 671.36 415.09)"/>
<path d="M674.4,443.6 L697.1,450.1" stroke="#000" stroke-width="1.26" fill="none"/>
<text transform="translate(697.14 458.2) scale(1.35 1)" font-size="16.2">18</text>
<path d="M688.7,485.4 L693.3,485.4" stroke="#000" stroke-width="1.26" fill="none"/>
<text transform="translate(697.14 493.9) scale(1.35 1)" font-size="16.2">19</text>
<path d="M728,456.9 L734.8,458.2 L734.8,652.7 L723.5,653.9" stroke="#000" stroke-width="1.26" fill="none"/>
<path d="M726,488.4 L734.8,488.8" stroke="#000" stroke-width="1.26" fill="none"/>
<path d="M670.1,526.4 L734.8,526.4" stroke="#000" stroke-width="1.26" fill="none"/>
<path d="M734.8,553.4 L744.2,553.4" stroke="#000" stroke-width="1.26" fill="none"/>
<text transform="translate(745.04 557.9) scale(1.35 1)" font-size="16.2">17</text>
<path d="M635.6,568.5 L635.6,584 A25.7,13.9 0 0 0 687,584 L687,568.5" stroke="#000" stroke-width="1.49" fill="#fff"/>
<path d="M635.6,573 A25.7,13.9 0 0 0 687,573 M635.6,576.2 A25.7,13.9 0 0 0 687,576.2 M635.6,580 A25.7,13.9 0 0 0 687,580" stroke="#000" stroke-width="1.38" fill="none"/>
<ellipse cx="661.3" cy="568.5" rx="25.7" ry="13.9" stroke="#000" stroke-width="1.49" fill="#fff"/>
<ellipse cx="644.9" cy="570" rx="2.5" ry="1.8" stroke="#000" stroke-width="1.26" fill="none"/>
<ellipse cx="651.7" cy="578.1" rx="2.5" ry="1.8" stroke="#000" stroke-width="1.26" fill="none"/>
<ellipse cx="670.1" cy="578.1" rx="2.5" ry="1.8" stroke="#000" stroke-width="1.26" fill="none"/>
<ellipse cx="678.2" cy="570" rx="2.5" ry="1.8" stroke="#000" stroke-width="1.26" fill="none"/>
<ellipse cx="670.6" cy="561.7" rx="2.5" ry="1.8" stroke="#000" stroke-width="1.26" fill="none"/>
<ellipse cx="651.7" cy="561.7" rx="2.5" ry="1.8" stroke="#000" stroke-width="1.26" fill="none"/>
<path d="M653,560 L653,571 Q661.5,576 670.1,571 L670.1,560" stroke="#000" stroke-width="1.49" fill="#fff"/>
<path d="M653,500 L653,571 M670.1,500 L670.1,571" stroke="#000" stroke-width="1.49" fill="none"/>
<ellipse cx="660.5" cy="622.2" rx="25.2" ry="15.1" stroke="#000" stroke-width="1.95" fill="none"/>
<path d="M687,620.4 L692.8,620.4" stroke="#000" stroke-width="1.26" fill="none"/>
<text transform="translate(696.71 623.9) scale(1.35 1)" font-size="16.2">20</text>
<path d="M726,617.6 L734.8,617.6" stroke="#000" stroke-width="1.26" fill="none"/>
<ellipse cx="660" cy="655.9" rx="25.7" ry="14.6" stroke="#000" stroke-width="1.49" fill="none"/>
<ellipse cx="660" cy="655.9" rx="23" ry="12.4" stroke="#000" stroke-width="1.49" fill="none"/>
<path d="M687,656 L692.8,656" stroke="#000" stroke-width="1.26" fill="none"/>
<text transform="translate(695.91 660.2) scale(1.35 1)" font-size="16.2">21</text>
<path d="M634.8,694.6 L634.8,719.4 Q637,724 643.5,730.5 Q652,735.5 661,735.5 Q670,735.5 677.5,730.5 Q685,724 687.2,719.4 L687.2,694.6" stroke="#000" stroke-width="1.49" fill="#fff"/>
<path d="M634.8,710 A26.2,14.6 0 0 0 687.2,710 M634.8,716.8 A26.2,14.6 0 0 0 687.2,716.8 M635.3,720.5 A26,14.4 0 0 0 686.8,720.5" stroke="#000" stroke-width="1.38" fill="none"/>
<ellipse cx="661" cy="694.6" rx="26.2" ry="14.7" stroke="#000" stroke-width="1.49" fill="#fff"/>
<ellipse cx="661" cy="695" rx="20.7" ry="11.3" stroke="#000" stroke-width="1.38" fill="none"/>
<ellipse cx="661" cy="696" rx="18.9" ry="10.1" stroke="#000" stroke-width="1.38" fill="none"/>
<path d="M673.41,702.76 L672.98,703.5 L672.32,704.21 L671.45,704.88 L670.36,705.48 L669.1,706.01 L667.68,706.46 L666.12,706.82 L664.47,707.09 L662.75,707.25 L661,707.3 L659.25,707.25 L657.53,707.09 L655.88,706.82 L654.32,706.46 L652.9,706.01 L651.64,705.48 L650.55,704.88 L649.68,704.21 L649.02,703.5 L648.59,702.76" stroke="#000" stroke-width="1.26" fill="none"/>
<ellipse cx="661" cy="704.3" rx="8.8" ry="3.5" stroke="#000" stroke-width="1.26" fill="none"/>
<path d="M676.04,702.1 L675.1,703.1 L673.87,704.02 L672.37,704.85 L670.64,705.56 L668.71,706.16 L666.63,706.61 L664.42,706.92 L662.15,707.08 L659.85,707.08 L657.58,706.92 L655.37,706.61 L653.29,706.16 L651.36,705.56 L649.63,704.85 L648.13,704.02 L646.9,703.1 L645.96,702.1" stroke="#000" stroke-width="1.15" fill="none"/>
<path d="M651.2,736 L651.2,741.5 A8.7,3.6 0 0 0 668.6,741.5 L668.6,736" stroke="#000" stroke-width="1.49" fill="#fff"/>
<path d="M668.6,741.6 L668.51,742.11 L668.25,742.61 L667.81,743.1 L667.22,743.55 L666.48,743.96 L665.6,744.32 L664.6,744.63 L663.51,744.87 L662.35,745.05 L661.14,745.16 L659.9,745.2 L658.66,745.16 L657.45,745.05 L656.29,744.87 L655.2,744.63 L654.2,744.32 L653.32,743.96 L652.58,743.55 L651.99,743.1 L651.55,742.61 L651.29,742.11 L651.2,741.6" stroke="#000" stroke-width="2.18" fill="none"/>
<path d="M665.9,739.5 L665.84,739.81 L665.66,740.12 L665.36,740.41 L664.95,740.69 L664.43,740.94 L663.83,741.16 L663.14,741.35 L662.39,741.5 L661.59,741.61 L660.75,741.68 L659.9,741.7 L659.05,741.68 L658.21,741.61 L657.41,741.5 L656.66,741.35 L655.97,741.16 L655.37,740.94 L654.85,740.69 L654.44,740.41 L654.14,740.12 L653.96,739.81 L653.9,739.5" stroke="#000" stroke-width="1.15" fill="none"/>
<path d="M687.7,708.6 L734.8,710.6 L734.8,758 L722.2,759" stroke="#000" stroke-width="1.26" fill="none"/>
<path d="M734.8,733.8 L742.4,733.8" stroke="#000" stroke-width="1.26" fill="none"/>
<text transform="translate(742.61 740.8) scale(1.35 1)" font-size="16.2">22</text>
<ellipse cx="660" cy="764.8" rx="25.9" ry="14.6" stroke="#000" stroke-width="1.95" fill="none"/>
<path d="M687,761.5 L693.3,761.5" stroke="#000" stroke-width="1.26" fill="none"/>
<text transform="translate(695.91 766) scale(1.35 1)" font-size="16.2">23</text>
<path d="M631.3,846 L631.3,953 M688.8,846 L688.8,1032.2" stroke="#000" stroke-width="1.49" fill="none"/>
<path d="M627.8,820.5 L627.8,846 A32.7,19 0 0 0 693.3,846 L693.3,820.5" stroke="#000" stroke-width="1.49" fill="#fff"/>
<ellipse cx="660.5" cy="820.5" rx="32.7" ry="19.2" stroke="#000" stroke-width="1.49" fill="#fff"/>
<ellipse cx="660.5" cy="820" rx="26.4" ry="14.6" stroke="#000" stroke-width="1.49" fill="none"/>
<path d="M685.7,821.8 L685.44,823.74 L684.68,825.63 L683.42,827.45 L681.7,829.15 L679.54,830.71 L677,832.08 L674.12,833.24 L670.97,834.17 L667.6,834.85 L664.09,835.26 L660.5,835.4 L656.91,835.26 L653.4,834.85 L650.03,834.17 L646.88,833.24 L644,832.08 L641.46,830.71 L639.3,829.15 L637.58,827.45 L636.32,825.63 L635.56,823.74 L635.3,821.8" stroke="#000" stroke-width="1.26" fill="none"/>
<path d="M684.5,823.5 L684.26,825.29 L683.53,827.05 L682.33,828.73 L680.69,830.31 L678.64,831.75 L676.22,833.02 L673.48,834.1 L670.47,834.96 L667.26,835.59 L663.92,835.97 L660.5,836.1 L657.08,835.97 L653.74,835.59 L650.53,834.96 L647.52,834.1 L644.78,833.02 L642.36,831.75 L640.31,830.31 L638.67,828.73 L637.47,827.05 L636.74,825.29 L636.5,823.5" stroke="#000" stroke-width="1.26" fill="none"/>
<path d="M683.12,824.53 L683.17,826.11 L682.77,827.67 L681.94,829.18 L680.69,830.63 L679.05,831.97 L677.04,833.18 L674.71,834.23 L672.1,835.11 L669.27,835.8 L666.28,836.28 L663.18,836.55 L660.03,836.59 L656.91,836.41 L653.86,836.01 L650.96,835.4 L648.27,834.59 L645.82,833.6 L643.69,832.45 L641.9,831.15 L640.49,829.75 L639.5,828.26 L638.93,826.71 L638.81,825.14 L639.14,823.57" stroke="#000" stroke-width="1.26" fill="none"/>
<path d="M681.31,825.02 L681.86,826.37 L681.99,827.76 L681.7,829.14 L681,830.48 L679.9,831.76 L678.42,832.95 L676.6,834.03 L674.47,834.98 L672.08,835.77 L669.47,836.38 L666.7,836.81 L663.83,837.05 L660.92,837.09 L658.03,836.93 L655.21,836.57 L652.53,836.03 L650.05,835.31 L647.81,834.42 L645.86,833.4 L644.24,832.24 L642.99,830.99 L642.12,829.67 L641.67,828.3 L641.64,826.92 L642.02,825.55 L642.82,824.22" stroke="#000" stroke-width="1.38" fill="none"/>
<path d="M689.5,916.1 L744.2,903.5" stroke="#000" stroke-width="1.26" fill="none"/>
<text transform="translate(743.24 907.3) scale(1.35 1)" font-size="16.2">16</text>
<path d="M 631.03,944.84 Q 625.99,940.3 618.44,942.82 Q 611.64,946.6 611.64,954.16 Q 611.89,959.95 615.92,962.47 L 631.79,971.79 M 631.03,944.84 L 631.03,952.9 Q 630.53,954.91 628.01,954.16" stroke="#000" stroke-width="1.49" fill="none"/>
<path d="M 625.99,971.03 Q 616.68,971.79 614.16,979.35 Q 613.4,985.64 617.43,988.66 L 630.53,997.73 M 620.45,973.05 L 620.45,975.57 L 626.75,978.59 M 628.01,975.06 L 620.45,975.57" stroke="#000" stroke-width="1.49" fill="none"/>
<path d="M 624.23,1000.76 Q 613.4,1001.26 610.38,1007.05 Q 609.87,1010.83 612.9,1013.35 L 643.12,1030.98 Q 646.9,1030.98 648.16,1027.96 M 618.44,993.2 L 618.44,1000.76 L 624.99,1004.53" stroke="#000" stroke-width="1.49" fill="none"/>
<path d="M 624.99,1022.17 Q 620.45,1030.98 621.71,1039.8 Q 622.97,1044.84 625.99,1046.1 L 670.83,1071.79" stroke="#000" stroke-width="1.49" fill="none"/>
<ellipse cx="684.69" cy="1052.9" rx="13.8539" ry="21.1587" stroke="#000" stroke-width="1.49" fill="#fff" transform="rotate(24 684.69 1052.9)"/>
<ellipse cx="684.69" cy="1052.9" rx="8.56423" ry="14.1058" stroke="#000" stroke-width="1.49" fill="none" transform="rotate(24 684.69 1052.9)"/>
</svg></body></html>
